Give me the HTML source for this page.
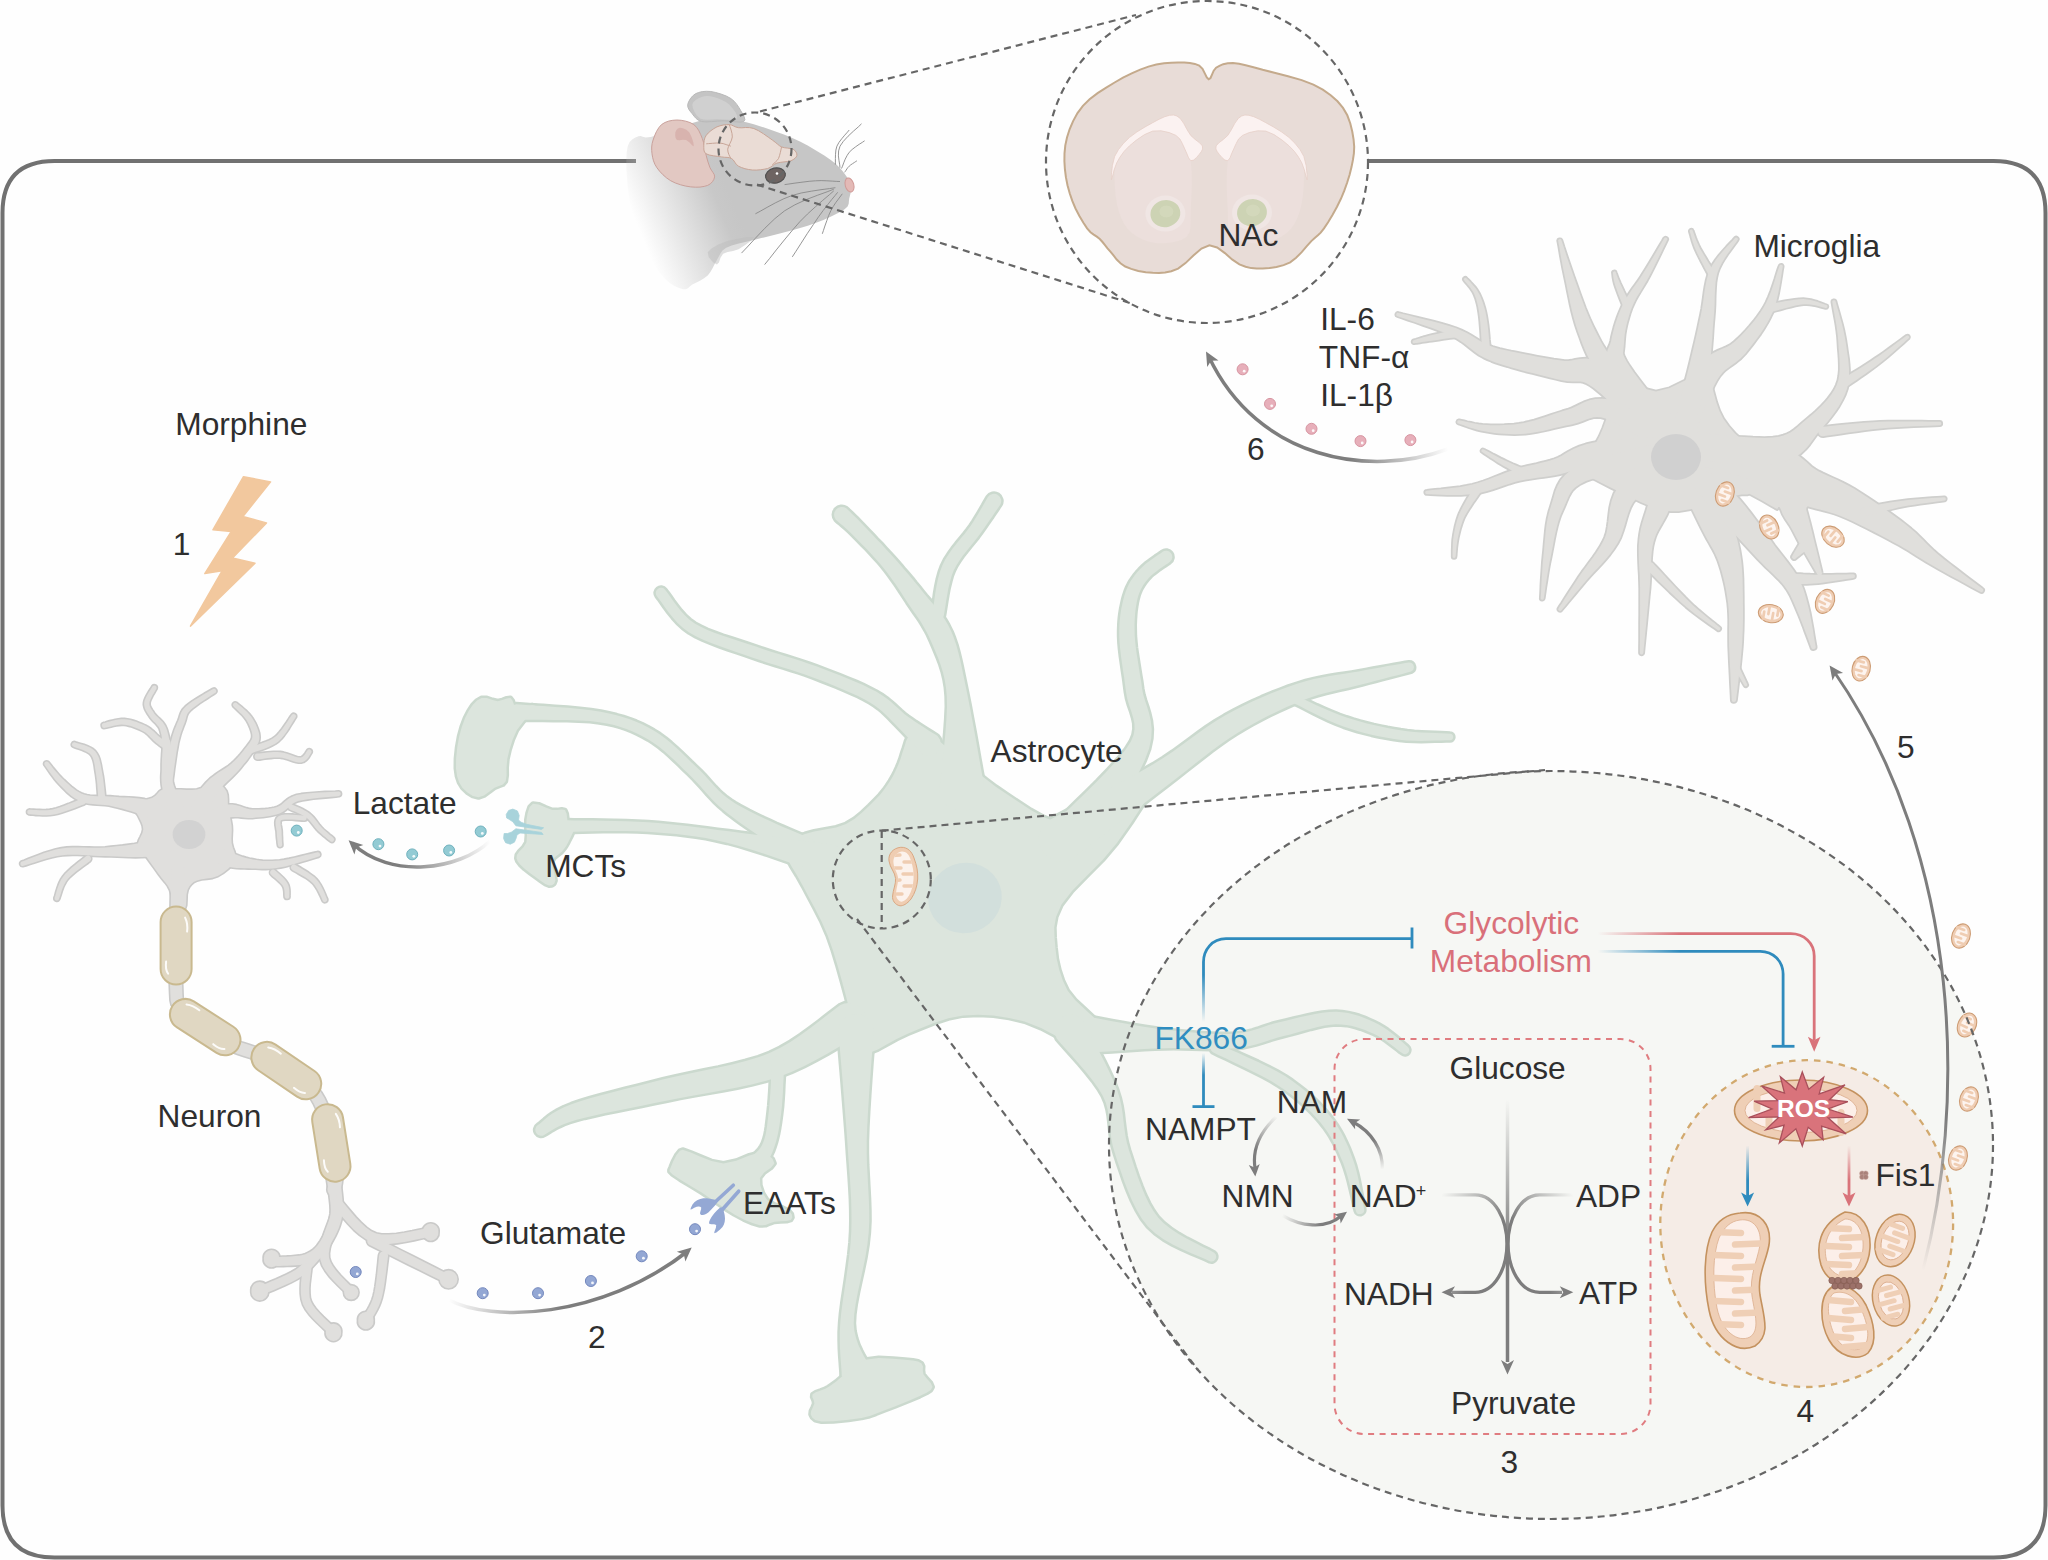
<!DOCTYPE html><html><head><meta charset="utf-8"><style>html,body{margin:0;padding:0;background:#fefefe;width:2048px;height:1560px;overflow:hidden}svg{display:block;font-family:"Liberation Sans",sans-serif}</style></head><body><svg width="2048" height="1560" viewBox="0 0 2048 1560" font-family="Liberation Sans, sans-serif"><rect width="2048" height="1560" fill="#fefefe"/>
<path d="M636,161 L54.5,161 Q2.5,161 2.5,213 L2.5,1505.5 Q2.5,1557.5 54.5,1557.5 L1993.5,1557.5 Q2045.5,1557.5 2045.5,1505.5 L2045.5,213 Q2045.5,161 1993.5,161 L1368,161" fill="none" stroke="#717171" stroke-width="4"/>
<linearGradient id="g1" gradientUnits="userSpaceOnUse" x1="640" y1="232" x2="730" y2="195"><stop offset="0" stop-color="#c8c8c8" stop-opacity="0"/><stop offset="0.85" stop-color="#c8c8c8" stop-opacity="1"/><stop offset="1" stop-color="#c6c6c6"/></linearGradient><path d="M638.5,136.2L640.7,135.9L642.7,136.8L645.6,137.5L650.8,136.9L659.7,134.2L671.3,130.2L683.1,126.1L692.3,123.1L697.6,121.5L700.7,120.6L703.4,120.2L707.7,120.0L714.3,119.7L722.1,119.7L730.4,119.9L738.5,120.8L746.2,122.3L753.8,124.3L761.5,126.7L769.2,129.2L776.9,131.9L784.6,134.8L792.3,137.9L800.0,141.5L808.1,145.8L816.4,150.7L824.3,155.6L830.8,160.0L835.6,163.8L839.2,167.3L842.1,170.6L844.6,173.8L846.9,177.0L848.7,180.1L850.0,183.1L850.8,186.2L851.0,189.3L850.7,192.4L850.0,195.5L849.2,198.5L848.9,201.2L848.7,203.8L847.6,206.4L844.6,209.2L839.1,212.6L831.6,216.2L823.4,219.9L815.4,223.1L807.8,225.7L800.1,228.1L792.3,230.2L784.6,232.3L776.9,234.3L769.0,236.2L761.3,238.1L753.8,240.0L746.3,241.8L738.7,243.6L731.7,245.4L726.2,247.7L722.5,250.4L720.4,253.4L718.8,256.6L716.9,260.0L714.8,263.8L712.7,267.9L710.4,271.9L707.7,275.4L704.1,278.2L700.0,280.7L695.9,282.8L692.3,284.6L689.8,286.5L687.9,288.2L685.9,289.3L683.1,289.2L679.1,288.0L674.4,285.9L669.4,282.7L664.6,278.5L659.9,272.9L655.1,266.2L650.4,258.7L646.2,250.8L642.2,242.2L638.4,232.9L635.1,223.3L632.3,213.8L630.2,204.5L628.7,195.0L627.6,185.7L626.9,176.9L626.4,168.3L626.3,159.9L626.7,152.2L627.7,146.2L629.6,141.9L632.4,139.2L635.4,137.4Z" fill="url(#g1)"/><path d="M707.7,252.3L711.5,248.4L718.3,244.6L726.2,241.5L736.3,238.9L747.5,237.0L753.8,236.9L751.9,240.1L745.2,245.1L738.5,249.2L733.0,251.1L727.5,252.1L723.1,253.8L720.5,257.8L718.9,262.5L716.9,264.6L713.0,262.2L708.8,257.2Z" fill="#bdbdbd" opacity="0.5"/><path d="M687.7,104.6L688.6,101.8L690.3,98.8L692.6,96.0L695.4,93.8L698.6,92.5L702.3,91.6L706.4,91.3L710.8,91.5L715.7,92.5L721.1,94.1L726.4,96.1L730.8,98.5L734.1,101.2L736.8,104.4L739.0,107.7L740.8,110.8L742.6,113.8L744.2,117.0L744.9,119.7L743.8,121.5L740.3,122.1L735.0,121.8L728.9,121.1L723.1,120.8L717.5,121.1L711.6,121.6L706.1,121.9L701.5,121.5L698.3,120.2L695.9,118.3L694.0,116.1L692.3,113.8L690.5,111.7L688.9,109.4L687.9,107.1Z" fill="#c4c4c4" stroke="#b9b9b9" stroke-width="1"/><path d="M692.3,104.6L693.4,102.1L695.7,99.9L698.6,98.2L701.5,96.9L704.3,96.2L707.3,96.0L710.5,96.2L713.8,96.9L717.7,98.2L721.8,99.9L725.9,102.1L729.2,104.6L732.3,108.0L735.3,112.0L737.1,115.8L736.9,118.5L733.8,119.6L728.5,119.8L722.4,119.5L716.9,119.2L712.3,119.5L707.7,119.8L703.5,119.6L700.0,118.5L697.0,115.8L694.5,112.0L692.8,108.0Z" fill="#d0d0d0"/><path d="M653.1,140.0L654.5,136.0L656.4,131.7L658.8,127.7L661.5,124.6L664.9,122.5L668.7,121.1L672.8,120.3L676.9,120.0L681.2,120.3L685.8,121.2L690.2,122.6L693.8,124.6L696.7,127.4L698.9,130.8L700.7,134.6L702.3,138.5L703.6,142.6L704.5,147.0L705.3,151.4L706.2,155.4L707.1,158.9L708.0,162.0L709.0,164.9L710.0,167.7L711.4,170.2L713.0,172.5L714.3,174.7L714.6,176.9L713.9,179.3L712.5,181.6L710.4,183.8L707.7,185.4L704.2,186.4L700.0,187.1L695.5,187.2L690.8,186.9L685.8,186.1L680.6,184.8L675.4,183.0L670.8,180.8L666.7,178.0L662.9,174.7L659.6,171.2L656.9,167.7L654.9,164.3L653.5,160.8L652.6,157.3L652.0,153.8L651.7,150.4L651.7,147.0L652.1,143.6Z" fill="#e2c8c2" stroke="#c9a19b" stroke-width="1"/><path d="M680.0,127.7L682.9,128.2L686.3,129.7L689.2,132.3L691.6,137.0L693.4,142.7L693.8,146.2L692.3,145.4L689.3,142.3L686.2,140.0L682.9,139.8L679.5,140.3L676.9,140.0L675.6,137.9L675.2,134.9L675.4,132.3L676.3,130.2L677.9,128.4Z" fill="#d4aaa5" opacity="0.7"/><path d="M706.2,135.4L708.2,133.0L710.9,130.7L713.9,128.6L716.9,126.9L720.0,125.8L723.2,125.0L726.3,124.7L729.2,124.6L731.6,125.1L733.7,126.0L735.8,127.0L738.5,127.7L741.8,127.8L745.6,127.5L749.6,127.6L753.8,128.5L758.5,130.7L763.5,133.8L768.3,137.2L772.3,140.0L775.2,142.2L777.4,144.0L779.3,145.6L781.5,146.9L784.4,147.7L787.6,148.1L790.7,148.5L793.1,149.2L794.8,150.5L796.1,152.1L796.8,153.8L796.9,155.4L796.3,156.9L795.0,158.3L793.1,159.7L790.8,160.8L787.7,161.5L784.0,161.9L780.2,162.4L776.9,163.1L774.4,164.3L772.4,165.8L770.3,167.3L767.7,168.5L764.2,169.2L760.3,169.8L756.2,170.1L752.3,170.0L748.6,169.5L744.9,168.7L741.4,167.5L738.5,166.2L736.3,164.4L734.8,162.2L733.3,160.0L731.5,158.5L729.4,157.7L727.1,157.4L724.5,157.3L721.5,156.9L717.8,156.4L713.4,155.8L709.2,155.0L706.2,153.8L704.5,152.1L703.9,150.0L703.8,147.7L703.8,145.4L703.9,143.0L704.2,140.4L704.9,137.8Z" fill="#eadcd5" stroke="#c8a597" stroke-width="1"/><path d="M729.2,124.6L730.0,126.8L731.1,130.0L732.0,133.6L732.3,136.9L731.5,140.1L730.0,143.3L728.5,146.4L727.7,149.2L728.0,152.0L728.9,154.6L730.0,156.9L730.8,158.5" fill="none" stroke="#c8a597" stroke-width="1"/><path d="M706.2,143.8L708.7,143.6L712.4,143.3L716.4,143.0L720.0,143.1L723.2,143.6L726.2,144.6L728.9,145.5L730.8,146.2" fill="none" stroke="#c8a597" stroke-width="1"/><path d="M781.5,146.9L781.1,149.1L780.4,152.3L779.5,155.7L778.5,158.5L777.0,160.5L775.2,162.3L773.5,163.6L772.3,164.6" fill="none" stroke="#c8a597" stroke-width="1"/><ellipse cx="775.5" cy="175.5" rx="10" ry="7.5" fill="#6e6462" stroke="#505050" stroke-width="1.2" transform="rotate(-12 775.5 175.5)"/><circle cx="777" cy="173.5" r="1.3" fill="#fff"/><ellipse cx="849.5" cy="185" rx="4.3" ry="7.2" fill="#e3b9b6" stroke="#d09a97" stroke-width="1" transform="rotate(-15 849.5 185)"/><path d="M840.0,167.7L839.7,164.8L839.0,160.7L838.4,155.9L838.6,150.9L840.0,146.2L843.3,141.4L848.1,136.2L853.4,131.2L858.3,126.9L861.5,123.8" fill="none" stroke="#8a8a8a" stroke-width="0.9"/><path d="M835.4,164.6L835.4,162.1L835.4,158.4L835.5,154.3L835.9,150.0L836.9,146.2L838.9,142.5L841.7,138.8L844.7,135.2L847.4,132.2L849.2,130.0" fill="none" stroke="#8a8a8a" stroke-width="0.9"/><path d="M841.5,168.5L842.5,166.2L843.7,162.9L845.2,159.2L847.1,155.5L849.2,152.3L852.1,149.5L855.6,146.8L859.2,144.3L862.4,142.3L864.6,140.8" fill="none" stroke="#8a8a8a" stroke-width="0.9"/><path d="M844.6,172.3L845.2,171.5L846.0,170.3L846.9,168.9L848.0,167.4L849.2,166.2L850.7,164.9L852.5,163.7L854.3,162.5L855.8,161.5L856.9,160.8" fill="none" stroke="#8a8a8a" stroke-width="0.9"/><path d="M840.0,181.5L836.8,181.4L832.2,181.1L826.9,180.8L821.1,180.6L815.4,180.8L809.1,181.3L802.0,182.2L795.0,183.1L788.9,184.0L784.6,184.6" fill="none" stroke="#8a8a8a" stroke-width="0.9"/><path d="M835.4,187.7L829.4,188.6L821.0,189.7L811.2,191.2L801.2,193.0L792.3,195.4L783.9,198.7L775.3,202.9L767.2,207.3L760.3,211.2L755.4,213.8" fill="none" stroke="#8a8a8a" stroke-width="0.9"/><path d="M833.8,189.2L827.1,191.8L817.4,195.3L806.2,199.6L794.9,204.8L784.6,210.8L774.9,218.6L764.9,228.2L755.4,238.2L747.3,247.0L741.5,253.1" fill="none" stroke="#8a8a8a" stroke-width="0.9"/><path d="M833.8,190.8L829.3,194.8L822.8,200.3L815.3,206.9L807.4,214.1L800.0,221.5L792.5,230.1L784.3,240.0L776.3,249.9L769.5,258.6L764.6,264.6" fill="none" stroke="#8a8a8a" stroke-width="0.9"/><path d="M837.7,192.3L835.2,195.4L831.7,199.6L827.6,204.8L823.1,210.6L818.5,216.9L813.3,224.6L807.2,233.7L801.2,243.1L796.0,251.2L792.3,256.9" fill="none" stroke="#8a8a8a" stroke-width="0.9"/><path d="M842.3,193.8L840.7,196.0L838.4,199.1L835.7,202.7L833.1,206.7L830.8,210.8L828.7,215.4L826.8,220.7L824.9,226.0L823.4,230.6L822.3,233.8" fill="none" stroke="#8a8a8a" stroke-width="0.9"/>
<path d="M1208.7,79.3L1206.8,77.4L1204.8,73.4L1202.5,68.9L1199.2,65.6L1194.9,63.9L1189.9,62.9L1184.2,62.4L1178.1,62.4L1171.3,62.7L1164.0,63.3L1156.3,64.6L1148.4,66.6L1140.2,69.6L1131.7,73.4L1123.0,77.7L1114.6,82.5L1106.2,87.6L1097.6,93.1L1089.6,99.2L1082.9,105.8L1077.5,113.1L1073.1,121.1L1069.6,129.3L1067.0,137.5L1065.3,145.4L1064.5,153.3L1064.4,161.3L1064.9,169.2L1065.9,177.2L1067.5,185.3L1069.7,193.3L1072.3,200.9L1075.5,208.5L1079.4,216.0L1083.4,222.8L1087.1,228.4L1090.5,232.2L1093.7,234.6L1096.8,236.6L1099.8,239.0L1102.5,242.0L1105.0,245.1L1107.5,248.3L1110.4,251.7L1113.5,255.4L1116.7,259.5L1120.5,263.3L1125.2,266.5L1131.2,268.9L1138.3,270.9L1145.7,272.2L1152.7,272.8L1159.0,273.0L1165.1,272.6L1171.3,271.3L1178.1,268.6L1185.5,263.1L1193.4,255.5L1201.5,248.6L1209.4,245.3L1217.1,247.5L1224.9,253.1L1232.4,259.7L1239.4,264.4L1245.6,266.7L1251.2,268.1L1256.7,268.6L1262.7,268.6L1269.4,268.1L1276.5,267.0L1283.6,265.1L1290.2,262.3L1296.1,257.8L1301.7,252.1L1306.8,246.2L1311.3,241.1L1315.0,237.7L1317.9,235.3L1320.7,232.6L1324.0,228.4L1328.1,222.3L1332.6,214.8L1337.0,206.8L1340.9,198.8L1344.2,190.9L1347.1,182.8L1349.6,174.8L1351.5,167.1L1352.9,160.0L1353.9,153.3L1354.2,146.7L1353.6,139.6L1352.3,131.8L1350.3,123.5L1347.3,115.3L1343.0,107.9L1337.5,101.3L1330.7,95.2L1322.8,89.6L1313.4,84.6L1301.7,80.1L1288.0,76.2L1274.4,72.7L1262.7,69.8L1253.5,67.3L1245.7,65.2L1239.1,63.7L1233.0,63.0L1227.7,63.2L1223.2,64.2L1219.4,65.8L1216.1,67.7L1213.7,70.7L1212.0,74.6L1210.5,78.0Z" fill="#e8dcd7" stroke="#c4aa8c" stroke-width="2"/><path d="M1114.6,179.8L1114.5,171.5L1114.6,163.0L1115.8,154.9L1118.8,148.1L1124.5,142.3L1132.1,137.3L1140.4,133.5L1148.4,131.1L1156.2,130.2L1164.3,130.6L1171.8,132.3L1178.1,135.4L1182.7,139.6L1186.2,145.1L1188.9,152.1L1190.7,160.7L1191.7,172.2L1191.8,186.1L1191.3,200.0L1190.7,211.5L1190.6,220.1L1190.5,227.0L1189.5,232.5L1186.5,236.9L1180.8,240.2L1173.0,242.3L1164.6,243.3L1156.9,243.2L1150.0,242.0L1143.2,239.7L1136.9,236.4L1131.5,232.7L1127.3,228.4L1123.9,223.4L1121.1,217.8L1118.8,211.5L1117.0,204.3L1115.7,196.3L1114.9,188.0Z" fill="#ecdfdc"/><path d="M1303.9,179.8L1304.0,171.5L1303.9,163.0L1302.7,154.9L1299.7,148.1L1294.1,142.3L1286.5,137.3L1278.1,133.5L1270.1,131.1L1262.3,130.2L1254.2,130.6L1246.7,132.3L1240.4,135.4L1235.8,139.6L1232.3,145.1L1229.6,152.1L1227.8,160.7L1226.8,172.2L1226.7,186.1L1227.2,200.0L1227.8,211.5L1227.9,220.1L1228.0,227.0L1229.0,232.5L1232.0,236.9L1237.7,240.2L1245.5,242.3L1253.9,243.3L1261.6,243.2L1268.5,242.0L1275.3,239.7L1281.6,236.4L1287.0,232.7L1291.2,228.4L1294.6,223.4L1297.4,217.8L1299.7,211.5L1301.5,204.3L1302.8,196.3L1303.6,188.0Z" fill="#ecdfdc"/><path d="M1111.4,179.8L1111.4,174.8L1112.4,165.4L1114.6,156.5L1118.4,149.7L1123.4,143.4L1129.4,137.5L1136.8,132.0L1145.1,126.9L1152.7,122.7L1159.0,119.3L1164.7,116.7L1169.6,115.3L1173.6,115.0L1176.9,116.0L1180.2,118.4L1183.7,123.3L1187.1,129.7L1190.7,135.4L1195.1,139.4L1199.6,142.8L1202.4,145.9L1202.6,149.0L1201.2,151.8L1199.2,154.4L1196.7,157.4L1193.6,160.1L1190.7,160.7L1188.6,157.9L1186.6,153.0L1184.4,148.1L1182.3,143.5L1179.9,139.0L1175.9,135.4L1169.3,132.6L1161.0,130.8L1152.7,131.1L1144.5,134.6L1136.4,140.1L1129.4,145.9L1124.1,151.4L1120.0,157.1L1116.7,162.9L1114.1,170.0L1112.3,177.1Z" fill="#fbf2f1" stroke="#e6cfc8" stroke-width="0.8"/><path d="M1307.1,179.8L1307.1,174.8L1306.1,165.4L1303.9,156.5L1300.1,149.7L1295.1,143.4L1289.1,137.5L1281.7,132.0L1273.4,126.9L1265.8,122.7L1259.5,119.3L1253.8,116.7L1248.9,115.3L1244.9,115.0L1241.6,116.0L1238.3,118.4L1234.8,123.3L1231.4,129.7L1227.8,135.4L1223.4,139.4L1218.9,142.8L1216.1,145.9L1215.9,149.0L1217.3,151.8L1219.3,154.4L1221.8,157.4L1224.9,160.1L1227.8,160.7L1230.0,157.9L1231.9,153.0L1234.1,148.1L1236.2,143.5L1238.6,139.0L1242.6,135.4L1249.2,132.6L1257.5,130.8L1265.8,131.1L1274.0,134.6L1282.1,140.1L1289.1,145.9L1294.4,151.4L1298.5,157.1L1301.8,162.9L1304.4,170.0L1306.2,177.1Z" fill="#fbf2f1" stroke="#e6cfc8" stroke-width="0.8"/><ellipse cx="1165.4" cy="213.6" rx="20" ry="18" fill="#f0e6e4"/><ellipse cx="1165.4" cy="213.6" rx="15" ry="13.5" fill="#cdd3b4" transform="rotate(-15 1165.4 213.6)"/><ellipse cx="1166.4" cy="211.6" rx="7" ry="6" fill="#d4dabd" opacity="0.8"/><ellipse cx="1252" cy="212.6" rx="20" ry="18" fill="#f0e6e4"/><ellipse cx="1252" cy="212.6" rx="15" ry="13.5" fill="#cdd3b4" transform="rotate(-15 1252 212.6)"/><ellipse cx="1253" cy="210.6" rx="7" ry="6" fill="#d4dabd" opacity="0.8"/>
<path d="M243.5,476.7L270.6,481.9L242.9,516.5L266.5,522.9L232.5,558.1L255,563.3L190.4,626.1L222.1,570.8L204.8,573.6L231.3,531.5L212.9,529.8Z" fill="#f2c89e" stroke="#f2c89e" stroke-width="1.5" stroke-linejoin="round"/>
<ellipse cx="1551" cy="1145" rx="442" ry="374" fill="#f6f7f4"/>
<defs><g id="ast"><path d="M784.6,849.2L786.5,843.7L791.1,839.9L797.5,836.9L805.0,834.0L814.1,831.5L825.0,829.5L836.1,827.4L846.0,824.0L854.4,818.9L862.1,812.6L869.0,806.0L875.0,800.0L879.9,794.9L883.8,790.1L887.0,785.6L890.0,781.0L892.8,776.4L895.1,771.8L897.2,767.3L899.0,763.0L900.5,759.0L901.7,755.1L902.8,751.5L904.0,748.0L905.1,744.5L906.1,741.1L907.5,738.2L910.0,736.0L913.6,734.2L917.9,732.8L923.3,732.7L930.0,735.0L938.5,740.6L948.5,748.7L959.1,757.7L969.2,766.0L978.3,773.2L987.1,780.1L996.1,786.9L1006.2,793.8L1017.9,801.6L1030.8,810.0L1043.7,817.2L1055.4,821.5L1064.8,822.6L1072.7,821.3L1081.2,817.8L1092.3,812.3L1109.7,801.2L1131.1,785.6L1150.1,772.5L1160.0,769.2L1157.3,779.7L1146.1,799.6L1131.1,822.8L1116.9,843.1L1102.8,859.8L1086.9,875.8L1072.2,890.8L1061.5,904.6L1056.1,916.7L1054.2,927.3L1054.5,937.4L1055.4,947.7L1056.7,958.7L1059.2,969.8L1062.9,980.7L1067.7,990.8L1075.1,1000.1L1084.6,1008.9L1093.4,1017.0L1098.5,1024.6L1099.6,1032.6L1098.1,1040.7L1093.8,1046.9L1086.2,1049.2L1074.3,1045.4L1058.5,1037.3L1041.1,1028.1L1024.6,1021.5L1009.1,1017.9L993.5,1015.6L978.0,1014.7L963.1,1015.4L948.4,1018.3L933.9,1023.1L920.1,1028.6L907.7,1033.8L896.6,1039.0L886.6,1044.6L877.9,1049.4L870.8,1052.3L866.0,1053.5L863.1,1053.5L861.0,1051.3L858.5,1046.2L855.6,1037.2L852.7,1025.0L849.7,1011.1L846.2,996.9L842.2,982.1L837.7,966.1L832.9,950.2L827.7,935.4L821.8,921.9L815.4,909.3L809.0,897.4L803.1,886.2L797.1,875.6L791.0,865.6L786.3,856.6Z"/><path d="M984.7,789.1L983.4,781.6L981.5,771.4L979.3,759.1L976.9,745.5L974.4,731.5L971.8,717.6L969.4,704.8L967.2,693.7L965.2,684.1L963.4,675.3L961.7,667.1L960.0,659.3L958.2,651.9L956.2,644.8L953.9,638.0L951.3,631.5L948.1,625.1L944.6,619.1L940.9,613.8L937.1,608.9L933.3,604.3L929.6,600.0L926.0,595.8L922.5,591.5L919.0,587.1L915.4,582.8L911.9,578.4L908.3,574.2L904.6,570.0L901.0,565.7L897.3,561.5L893.5,557.3L889.6,552.9L885.4,548.4L881.2,543.8L876.9,539.4L872.8,535.0L868.9,530.9L865.3,527.2L862.2,523.9L859.3,521.0L856.7,518.3L854.3,516.0L852.1,513.9L850.2,512.1L848.6,510.6L847.3,509.3L846.2,508.3A7.8,7.8 0 0 0 835.8,519.7L835.8,519.7L837.0,520.8L838.4,522.0L840.1,523.4L842.0,525.0L844.1,526.8L846.5,528.9L849.0,531.3L851.8,534.1L855.0,537.3L858.7,540.9L862.6,544.9L866.7,549.1L870.8,553.5L874.9,558.0L878.9,562.4L882.5,566.7L885.9,571.0L889.1,575.3L892.3,579.7L895.4,584.1L898.4,588.5L901.4,593.1L904.4,597.7L907.5,602.5L910.8,607.3L914.0,612.0L917.2,616.6L920.3,621.1L923.1,625.7L925.8,630.4L928.3,635.2L930.7,640.5L933.2,646.3L935.7,652.2L938.2,658.3L940.6,664.7L942.8,671.7L944.6,679.2L946.0,687.4L946.8,696.3L947.0,706.8L946.4,719.3L945.4,732.9L944.1,746.8L942.6,760.4L941.2,772.7L940.0,783.2L939.3,790.9A22.8,22.8 0 0 0 984.7,789.1Z"/><path d="M943.7,616.0L944.4,612.2L945.2,607.2L946.1,601.3L947.2,594.9L948.4,588.3L950.0,581.8L951.7,575.7L953.7,570.5L956.2,565.7L959.2,560.9L962.6,556.0L966.4,551.2L970.2,546.4L974.1,541.7L977.8,537.1L981.1,532.6L984.1,528.3L987.0,524.1L989.8,520.0L992.5,516.2L994.9,512.6L997.0,509.5L998.7,506.9L1000.1,504.9A7.2,7.2 0 0 0 987.9,497.1L987.9,497.1L986.6,499.3L985.0,502.0L983.2,505.3L981.0,509.0L978.7,512.9L976.2,517.0L973.6,521.3L970.9,525.4L967.9,529.5L964.5,533.9L960.6,538.5L956.6,543.4L952.6,548.6L948.8,554.0L945.2,559.6L942.3,565.5L939.9,571.9L938.0,578.8L936.5,585.9L935.3,592.9L934.4,599.6L933.6,605.5L932.9,610.4L932.3,614.0A5.8,5.8 0 0 0 943.7,616.0Z"/><path d="M1098.2,843.7L1102.2,836.5L1108.1,826.5L1115.4,814.3L1123.4,800.8L1131.3,786.8L1138.7,773.0L1144.8,760.1L1149.1,748.6L1151.2,738.4L1151.7,729.2L1150.8,720.9L1149.1,713.5L1147.1,706.7L1145.0,700.5L1143.3,694.7L1142.1,688.7L1141.2,682.0L1140.0,674.9L1138.9,667.8L1137.8,660.8L1136.7,654.0L1135.8,647.5L1135.2,641.4L1134.7,635.7L1134.6,630.3L1134.5,625.1L1134.7,620.1L1135.0,615.3L1135.4,610.8L1136.0,606.6L1136.7,602.5L1137.5,598.8L1138.4,595.5L1139.5,592.5L1140.6,589.9L1141.9,587.4L1143.3,585.1L1144.9,582.8L1146.7,580.5L1148.6,578.2L1150.7,576.0L1153.3,573.7L1156.3,571.4L1159.4,569.1L1162.5,567.0L1165.3,565.1L1167.8,563.4L1169.7,562.1A6.2,6.2 0 0 0 1162.3,551.9L1162.3,551.9L1160.7,553.2L1158.3,554.8L1155.4,556.7L1152.2,559.0L1148.8,561.5L1145.4,564.1L1142.2,566.9L1139.4,569.8L1137.0,572.5L1134.9,575.1L1132.8,577.9L1130.8,580.8L1129.0,584.0L1127.3,587.4L1125.8,591.2L1124.5,595.2L1123.3,599.5L1122.3,604.0L1121.3,608.8L1120.5,613.8L1119.9,619.0L1119.5,624.5L1119.3,630.3L1119.3,636.3L1119.6,642.7L1120.2,649.3L1121.0,656.2L1122.0,663.2L1123.0,670.2L1124.1,677.3L1125.0,684.2L1125.9,691.3L1127.2,698.6L1129.2,705.5L1131.4,711.8L1133.2,717.7L1134.4,723.3L1134.6,729.0L1133.6,734.9L1130.9,741.4L1125.7,749.5L1117.8,759.3L1108.0,770.0L1097.4,781.1L1086.6,791.7L1076.5,801.6L1067.9,810.0L1061.8,816.3A22.8,22.8 0 0 0 1098.2,843.7Z"/><path d="M1072.3,859.1L1079.8,853.3L1089.9,845.4L1102.0,836.0L1115.3,825.6L1129.2,814.9L1142.9,804.2L1155.8,794.3L1167.2,785.5L1177.2,777.8L1186.6,770.4L1195.3,763.5L1203.7,757.0L1211.7,750.8L1219.6,745.0L1227.4,739.5L1235.5,734.2L1243.9,729.1L1252.5,724.2L1261.1,719.5L1269.8,715.1L1278.3,710.9L1286.7,707.1L1295.0,703.5L1302.9,700.2L1310.5,697.4L1318.0,695.1L1325.4,693.0L1332.8,691.2L1340.1,689.6L1347.3,688.0L1354.4,686.3L1361.4,684.6L1368.5,682.7L1375.7,680.8L1382.9,678.9L1389.9,677.1L1396.5,675.4L1402.3,673.9L1407.3,672.6L1411.0,671.6A4.8,4.8 0 0 0 1409.0,662.4L1409.0,662.4L1405.2,663.0L1400.2,663.9L1394.2,665.0L1387.6,666.1L1380.4,667.4L1373.0,668.7L1365.7,670.1L1358.6,671.4L1351.7,672.6L1344.6,673.7L1337.3,674.8L1329.7,676.0L1321.9,677.4L1313.8,679.1L1305.5,681.2L1297.1,683.8L1288.5,686.7L1279.7,690.0L1270.7,693.5L1261.5,697.4L1252.3,701.6L1243.0,706.0L1233.7,710.8L1224.5,715.8L1215.5,721.2L1206.8,726.9L1198.4,732.9L1190.1,739.0L1181.6,745.3L1172.7,751.7L1163.2,758.0L1152.8,764.5L1140.7,771.4L1126.6,779.2L1111.4,787.4L1095.9,795.6L1081.0,803.4L1067.4,810.5L1056.0,816.5L1047.7,820.9A22.8,22.8 0 0 0 1072.3,859.1Z"/><path d="M1290.4,701.4L1294.4,703.4L1299.7,706.1L1306.1,709.4L1313.2,713.0L1320.8,716.8L1328.6,720.4L1336.2,723.7L1343.4,726.5L1350.4,728.8L1357.4,731.0L1364.5,732.9L1371.6,734.7L1378.6,736.2L1385.7,737.6L1392.6,738.7L1399.4,739.7L1406.4,740.4L1413.8,740.8L1421.2,740.9L1428.4,740.8L1435.1,740.6L1441.1,740.5L1446.1,740.3L1449.9,740.2A3.2,3.2 0 0 0 1450.1,733.8L1450.1,733.8L1446.2,733.5L1441.1,733.3L1435.2,733.1L1428.5,732.8L1421.5,732.4L1414.3,731.9L1407.3,731.2L1400.6,730.3L1394.1,729.2L1387.5,728.0L1380.7,726.6L1373.8,725.1L1366.9,723.4L1360.1,721.6L1353.2,719.6L1346.6,717.5L1339.6,715.0L1332.2,712.0L1324.5,708.7L1316.9,705.4L1309.7,702.0L1303.2,699.0L1297.7,696.5L1293.6,694.6A3.8,3.8 0 0 0 1290.4,701.4Z"/><path d="M656.9,596.2L659.0,598.9L661.6,602.6L664.7,607.1L668.5,612.2L672.8,617.5L677.6,622.9L683.1,627.9L689.2,632.4L695.9,636.3L703.2,639.8L711.1,643.0L719.3,646.1L727.7,649.1L736.1,651.9L744.3,654.7L752.1,657.4L759.9,660.1L767.6,662.7L775.4,665.1L783.1,667.4L790.7,669.8L798.2,672.2L805.6,674.7L813.0,677.4L820.5,680.3L828.2,683.3L836.0,686.5L843.6,689.7L851.0,692.9L858.0,696.1L864.3,699.3L869.9,702.4L874.6,705.4L878.7,708.4L882.3,711.4L885.5,714.4L888.6,717.5L891.7,720.7L894.9,724.1L898.3,727.5L901.7,731.0L905.3,734.7L908.8,738.5L912.2,742.3L915.3,745.9L918.2,749.2L920.5,751.9L922.4,753.9A11.8,11.8 0 0 0 937.6,736.1L937.6,736.1L935.3,734.6L932.3,732.7L928.6,730.4L924.6,727.8L920.3,725.0L915.9,722.2L911.7,719.3L907.7,716.5L904.3,713.9L901.1,711.1L897.8,708.0L894.4,704.9L890.6,701.6L886.4,698.2L881.6,694.9L876.1,691.6L869.9,688.4L863.1,685.1L855.9,681.9L848.2,678.7L840.4,675.6L832.5,672.5L824.7,669.5L817.0,666.6L809.4,663.9L801.8,661.3L794.1,658.8L786.4,656.4L778.8,654.1L771.1,651.7L763.5,649.2L755.9,646.6L747.9,643.9L739.6,641.2L731.2,638.5L723.0,635.8L715.0,632.9L707.5,630.0L700.7,626.8L694.8,623.6L689.8,619.9L685.0,615.5L680.7,610.8L676.8,605.8L673.2,601.0L670.1,596.5L667.4,592.7L665.1,589.8A5.2,5.2 0 0 0 656.9,596.2Z"/><path d="M515.7,719.7L522.4,719.8L531.6,719.8L542.6,719.8L554.5,719.9L566.9,720.1L578.9,720.5L589.9,721.1L599.2,722.2L607.0,723.5L614.1,725.1L620.5,726.9L626.4,728.9L632.1,731.2L637.5,733.7L642.9,736.5L648.3,739.5L653.7,742.9L659.0,746.8L664.2,751.0L669.2,755.5L674.2,760.1L679.1,764.8L683.8,769.4L688.4,773.8L692.6,777.9L696.4,782.0L700.2,786.1L703.8,790.2L707.4,794.3L711.2,798.4L715.1,802.5L719.3,806.4L723.7,810.2L728.0,813.7L732.4,817.1L736.9,820.5L741.4,823.7L746.1,827.0L750.8,830.2L755.6,833.6L761.0,837.2L767.1,841.2L773.4,845.2L779.7,849.2L785.8,853.0L791.2,856.3L795.7,859.2L799.1,861.3A12.8,12.8 0 0 0 810.9,838.7L810.9,838.7L807.2,837.1L802.3,835.0L796.4,832.6L789.9,829.8L783.1,826.9L776.4,824.0L770.1,821.1L764.4,818.4L759.1,815.9L754.0,813.4L749.1,811.0L744.4,808.5L739.7,806.0L735.3,803.4L730.9,800.6L726.7,797.6L722.7,794.3L718.9,790.8L715.3,787.1L711.7,783.1L708.0,779.0L704.2,774.8L700.1,770.5L695.6,766.2L691.0,761.9L686.3,757.3L681.4,752.6L676.3,747.8L670.9,743.0L665.4,738.5L659.6,734.2L653.7,730.5L647.8,727.2L642.0,724.3L636.1,721.7L629.9,719.3L623.5,717.2L616.6,715.3L609.1,713.5L600.8,711.8L591.1,710.3L579.8,709.0L567.6,707.8L555.1,706.9L543.0,706.1L532.1,705.4L523.0,704.8L516.3,704.3A7.8,7.8 0 0 0 515.7,719.7Z"/><path d="M833.6,844.7L825.4,843.6L814.3,842.2L801.1,840.5L786.5,838.6L771.2,836.6L756.0,834.7L741.7,832.9L729.0,831.3L717.8,830.0L707.2,828.6L697.0,827.3L687.2,826.1L677.5,825.0L667.9,823.9L658.2,823.0L648.3,822.3L637.7,821.7L626.2,821.2L614.5,820.9L603.0,820.7L592.1,820.5L582.3,820.4L574.2,820.4L568.0,820.3A5.8,5.8 0 0 0 568.0,831.7L568.0,831.7L574.2,831.7L582.4,831.5L592.2,831.3L603.0,831.1L614.4,830.9L626.0,831.0L637.3,831.2L647.7,831.7L657.5,832.4L667.1,833.2L676.5,834.1L686.1,835.2L695.8,836.5L705.7,838.1L716.1,840.2L727.0,842.7L739.1,845.9L752.7,850.0L767.1,854.7L781.5,859.7L795.4,864.5L808.0,868.9L818.6,872.7L826.4,875.3A15.8,15.8 0 0 0 833.6,844.7Z"/><path d="M840.4,1005.1L834.8,1009.2L827.6,1014.7L819.5,1021.1L810.4,1028.0L800.7,1035.1L790.4,1041.9L779.9,1048.0L769.5,1053.1L758.2,1057.3L745.7,1061.0L732.2,1064.4L718.2,1067.6L703.9,1070.5L689.6,1073.4L675.7,1076.4L662.6,1079.5L650.0,1082.7L637.4,1085.9L624.8,1089.0L612.6,1092.2L600.9,1095.2L590.0,1098.2L580.2,1101.2L571.4,1104.2L564.0,1107.2L557.6,1110.4L552.4,1113.6L548.1,1116.6L544.6,1119.5L541.9,1121.9L539.8,1123.7L537.9,1125.1A5.8,5.8 0 0 0 544.1,1134.9L544.1,1134.9L546.5,1133.5L549.3,1131.8L552.2,1130.0L555.6,1128.1L559.5,1126.1L564.2,1124.0L569.8,1121.9L576.6,1119.8L584.8,1117.7L594.5,1115.5L605.2,1113.1L616.9,1110.7L629.2,1108.3L641.9,1105.7L654.7,1103.1L667.4,1100.5L680.2,1097.9L693.9,1095.4L708.2,1092.9L722.7,1090.3L737.3,1087.5L751.6,1084.4L765.4,1080.9L778.5,1076.9L791.3,1072.0L803.8,1066.3L815.8,1060.1L827.2,1053.8L837.5,1047.8L846.6,1042.4L854.0,1038.1L859.6,1034.9A17.8,17.8 0 0 0 840.4,1005.1Z"/><path d="M771.8,1061.7L771.6,1065.7L771.3,1071.0L771.1,1077.4L770.8,1084.4L770.4,1091.6L769.9,1098.8L769.4,1105.5L768.8,1111.3L768.2,1116.5L767.6,1121.6L767.0,1126.4L766.3,1130.9L765.5,1135.1L764.4,1139.1L763.1,1142.8L761.4,1146.2L759.2,1149.4L756.3,1152.5L752.9,1155.6L749.3,1158.5L745.7,1161.2L742.3,1163.6L739.3,1165.8L737.1,1167.7A10.8,10.8 0 0 0 752.9,1182.3L752.9,1182.3L754.2,1180.3L756.2,1177.6L758.8,1174.1L761.7,1170.1L764.7,1165.8L767.6,1161.3L770.4,1156.5L772.6,1151.8L774.3,1147.1L775.8,1142.5L777.0,1137.9L778.1,1133.1L779.0,1128.2L779.8,1123.2L780.5,1118.1L781.2,1112.7L781.9,1106.6L782.4,1099.7L782.9,1092.4L783.2,1085.0L783.6,1077.9L783.8,1071.5L784.0,1066.2L784.2,1062.3A6.2,6.2 0 0 0 771.8,1061.7Z"/><path d="M838.3,1030.1L839.0,1038.8L840.0,1050.5L841.2,1064.5L842.5,1079.9L843.8,1096.1L845.1,1112.2L846.3,1127.5L847.3,1141.2L848.1,1153.7L849.0,1165.7L849.8,1177.1L850.5,1188.3L851.1,1199.1L851.4,1209.9L851.5,1220.6L851.3,1231.5L850.6,1242.7L849.4,1254.5L847.8,1266.7L846.1,1278.8L844.3,1290.8L842.6,1302.2L841.2,1313.0L840.3,1322.8L839.8,1331.9L839.8,1340.4L840.0,1348.4L840.4,1355.8L840.9,1362.4L841.3,1367.9L841.6,1372.2L841.7,1375.5A14.8,14.8 0 0 0 870.3,1368.5L870.3,1368.5L868.7,1364.8L866.4,1360.4L863.7,1355.8L861.0,1350.6L858.3,1344.8L856.1,1338.3L854.4,1331.1L853.7,1323.2L854.2,1314.3L855.6,1304.2L857.7,1293.1L860.2,1281.4L862.9,1269.3L865.4,1256.9L867.4,1244.6L868.7,1232.5L869.3,1220.9L869.2,1209.5L868.8,1198.4L868.2,1187.2L867.6,1176.0L867.0,1164.7L866.7,1153.0L866.7,1140.8L867.2,1127.2L868.0,1111.9L869.0,1095.9L870.1,1079.7L871.2,1064.3L872.3,1050.3L873.1,1038.6L873.7,1029.9A17.8,17.8 0 0 0 838.3,1030.1Z"/><path d="M1089.0,1052.7L1094.9,1052.3L1102.7,1051.8L1112.0,1051.2L1122.4,1050.5L1133.3,1049.8L1144.3,1049.1L1154.9,1048.6L1164.6,1048.2L1173.7,1048.1L1182.9,1048.2L1192.2,1048.4L1201.4,1048.7L1210.4,1048.9L1219.2,1049.0L1227.6,1048.8L1235.6,1048.2L1243.0,1047.2L1249.7,1045.9L1255.9,1044.4L1261.7,1042.7L1267.1,1040.9L1272.5,1039.2L1277.9,1037.6L1283.7,1036.0L1290.3,1034.4L1297.1,1032.5L1304.1,1030.6L1311.0,1028.7L1317.8,1027.0L1324.4,1025.6L1330.5,1024.7L1336.0,1024.2L1341.2,1024.4L1346.2,1024.9L1351.1,1025.8L1355.8,1027.0L1360.5,1028.5L1365.0,1030.1L1369.4,1031.9L1373.7,1033.7L1377.8,1035.7L1381.9,1038.2L1386.1,1040.9L1390.1,1043.9L1393.8,1046.7L1397.2,1049.4L1400.1,1051.7L1402.4,1053.3A4.2,4.2 0 0 0 1407.6,1046.7L1407.6,1046.7L1405.6,1044.9L1402.9,1042.6L1399.6,1039.7L1395.9,1036.5L1391.8,1033.2L1387.5,1029.9L1382.9,1026.9L1378.3,1024.3L1373.8,1022.1L1369.2,1020.0L1364.4,1017.9L1359.3,1016.0L1353.9,1014.4L1348.2,1013.1L1342.3,1012.2L1336.0,1011.8L1329.3,1012.0L1322.3,1012.7L1315.1,1013.9L1307.9,1015.4L1300.6,1017.1L1293.6,1018.8L1286.8,1020.5L1280.3,1022.0L1274.0,1023.5L1268.1,1025.3L1262.6,1027.2L1257.3,1029.0L1252.1,1030.6L1246.7,1032.0L1240.8,1033.1L1234.4,1033.8L1227.1,1034.1L1219.3,1034.1L1210.9,1033.8L1202.1,1033.3L1193.1,1032.6L1183.9,1031.7L1174.6,1030.8L1165.4,1029.8L1155.8,1028.5L1145.4,1026.9L1134.6,1025.2L1123.9,1023.3L1113.7,1021.4L1104.5,1019.7L1096.8,1018.3L1091.0,1017.3A17.8,17.8 0 0 0 1089.0,1052.7Z"/><path d="M1213.0,1052.3L1218.3,1054.9L1225.6,1058.3L1234.2,1062.4L1243.6,1066.9L1253.3,1071.7L1262.8,1076.6L1271.5,1081.3L1278.9,1085.9L1285.3,1090.2L1291.4,1094.7L1297.0,1099.2L1302.3,1103.8L1307.3,1108.4L1312.0,1113.1L1316.4,1117.9L1320.5,1122.6L1324.3,1127.4L1327.7,1132.2L1330.7,1137.0L1333.5,1141.9L1336.1,1146.9L1338.5,1152.1L1340.8,1157.4L1343.1,1162.8L1345.2,1168.7L1347.2,1175.2L1349.1,1182.1L1350.8,1189.1L1352.4,1195.8L1353.7,1201.9L1354.9,1207.1L1355.9,1210.9A4.2,4.2 0 0 0 1364.1,1209.1L1364.1,1209.1L1363.4,1205.3L1362.5,1200.1L1361.3,1194.0L1360.0,1187.1L1358.6,1179.9L1356.9,1172.6L1355.0,1165.6L1352.9,1159.2L1350.7,1153.4L1348.5,1147.7L1346.0,1142.2L1343.4,1136.7L1340.4,1131.3L1337.2,1125.9L1333.5,1120.6L1329.5,1115.4L1325.1,1110.2L1320.4,1105.1L1315.5,1100.1L1310.2,1095.1L1304.5,1090.2L1298.4,1085.4L1292.0,1080.7L1285.1,1076.1L1277.1,1071.5L1267.9,1066.7L1258.1,1061.9L1248.0,1057.4L1238.4,1053.1L1229.6,1049.3L1222.4,1046.1L1217.0,1043.7A4.8,4.8 0 0 0 1213.0,1052.3Z"/><path d="M1056.9,1038.8L1060.8,1043.4L1066.3,1049.5L1072.6,1056.6L1079.5,1064.4L1086.4,1072.6L1093.0,1080.9L1098.6,1088.8L1102.9,1096.0L1105.7,1102.6L1107.6,1109.2L1108.8,1115.9L1109.6,1122.9L1110.3,1130.1L1111.2,1137.7L1112.7,1145.8L1115.1,1154.1L1117.9,1162.7L1121.0,1171.8L1124.3,1181.4L1128.0,1191.1L1132.1,1200.7L1136.7,1210.0L1141.9,1218.7L1147.9,1226.4L1155.2,1233.3L1163.6,1239.3L1172.7,1244.5L1181.9,1249.0L1190.7,1252.9L1198.6,1256.2L1205.1,1259.0L1209.8,1261.2A4.8,4.8 0 0 0 1214.2,1252.8L1214.2,1252.8L1209.4,1250.1L1202.9,1246.9L1195.3,1243.1L1187.0,1238.8L1178.6,1234.0L1170.7,1228.8L1163.7,1223.3L1158.1,1217.6L1153.4,1211.0L1149.0,1203.4L1144.9,1194.9L1141.2,1185.9L1137.7,1176.6L1134.5,1167.3L1131.6,1158.2L1128.9,1149.9L1126.8,1142.4L1125.4,1135.4L1124.4,1128.4L1123.5,1121.3L1122.7,1113.9L1121.5,1106.3L1119.7,1098.3L1117.1,1090.0L1113.5,1080.9L1109.1,1071.2L1104.2,1061.2L1099.0,1051.2L1094.0,1041.8L1089.4,1033.3L1085.7,1026.3L1083.1,1021.2A15.8,15.8 0 0 0 1056.9,1038.8Z"/><path d="M481.7,698.0L486.9,698.1L492.5,700.0L497.7,701.2L502.4,700.1L506.8,698.4L510.5,698.0L512.6,700.7L514.0,704.8L516.9,707.6L523.8,706.9L532.1,705.1L536.2,706.0L532.3,711.9L524.0,720.7L516.9,730.0L512.7,739.5L509.5,749.5L507.3,758.8L506.5,767.4L506.6,775.2L505.7,781.3L502.9,784.5L498.9,785.9L494.5,787.7L489.5,791.4L484.0,795.4L478.5,797.3L472.8,795.9L467.1,792.3L462.4,787.7L459.2,782.5L457.1,776.2L456.0,768.5L456.1,758.5L457.3,747.1L459.2,736.4L461.8,726.9L465.1,718.1L468.8,710.8L472.7,705.0L477.0,700.6Z"/><path d="M533.0,803.7L538.7,804.4L545.8,807.6L552.2,810.1L557.3,810.1L561.7,809.4L565.0,810.1L566.6,813.8L567.2,818.9L568.2,822.9L570.7,824.2L573.6,824.5L575.0,826.2L573.7,830.8L570.9,836.9L568.2,842.2L566.2,845.9L564.2,848.8L561.8,851.8L558.4,854.6L554.6,857.5L552.2,861.4L552.7,867.6L554.6,874.9L555.4,880.6L554.2,883.7L552.0,885.3L549.0,885.4L545.3,883.9L540.9,880.9L536.2,877.4L530.6,873.4L524.6,868.8L520.1,864.6L517.6,861.3L516.5,858.3L516.9,855.0L519.5,851.3L523.5,847.3L526.5,842.2L527.0,835.2L526.4,827.1L526.5,819.7L527.7,813.1L529.7,807.1Z"/><path d="M679.9,1150.8L682.6,1149.7L685.5,1150.7L690.8,1152.6L699.9,1156.4L711.5,1161.1L723.5,1163.5L736.2,1160.7L749.3,1155.4L759.9,1152.6L767.4,1154.5L772.5,1158.8L774.4,1163.5L770.9,1167.8L764.2,1172.5L759.9,1178.0L760.2,1185.2L762.8,1193.1L767.1,1199.9L774.0,1204.4L782.6,1207.7L788.9,1210.8L791.7,1214.2L792.3,1217.5L790.8,1219.9L786.6,1221.0L780.4,1221.2L774.4,1221.7L769.8,1223.3L765.5,1225.1L759.9,1225.3L752.5,1223.1L743.8,1219.4L734.4,1214.4L723.9,1207.8L712.6,1200.0L701.7,1192.6L690.7,1185.9L680.1,1179.5L672.6,1174.4L669.6,1171.5L669.6,1169.9L670.8,1167.2L673.0,1161.7L676.3,1155.3Z"/><path d="M836.2,1381.6L844.2,1374.6L854.1,1366.0L865.3,1359.8L878.7,1358.1L893.2,1358.7L905.2,1359.8L912.9,1360.5L918.1,1361.5L921.6,1363.4L923.0,1366.4L922.8,1370.3L923.4,1374.3L926.7,1378.5L930.8,1383.0L932.5,1387.0L930.8,1390.1L926.6,1392.8L919.8,1396.1L908.9,1400.8L895.3,1406.2L883.4,1410.7L875.7,1413.8L869.7,1416.0L861.6,1417.9L848.5,1419.8L833.5,1421.3L821.6,1421.6L815.3,1420.1L812.2,1417.4L810.7,1414.3L811.1,1410.9L813.0,1407.0L814.4,1403.4L813.7,1400.1L812.3,1397.0L812.6,1394.3L815.8,1392.3L820.7,1390.6L825.3,1388.8L828.4,1387.1L831.3,1385.1Z"/></g></defs>
<use href="#ast" fill="#cbd9ce" stroke="#cbd9ce" stroke-width="5" stroke-linejoin="round"/>
<use href="#ast" fill="#dce5dd"/>
<ellipse cx="965" cy="898" rx="37" ry="35" fill="#d2dfdc" transform="rotate(-20 965 898)"/>
<clipPath id="g2"><path d="M900.8,847.3C908,847 912,852 914,858C917,866 918,872 917.7,879C917,887 915,893 911,899C907,904 903,906 900,905.8C895,905 892,900 892.6,896C893,890 896,884 895.6,878.6C895,872 890,868 889,861C888,854 893,848 900.8,847.3Z" transform="translate(904 876.5) scale(0.7 0.86) translate(-904 -876.5)"/></clipPath><path d="M900.8,847.3C908,847 912,852 914,858C917,866 918,872 917.7,879C917,887 915,893 911,899C907,904 903,906 900,905.8C895,905 892,900 892.6,896C893,890 896,884 895.6,878.6C895,872 890,868 889,861C888,854 893,848 900.8,847.3Z" fill="#efcdb2" stroke="#d9a883" stroke-width="1"/><path d="M900.8,847.3C908,847 912,852 914,858C917,866 918,872 917.7,879C917,887 915,893 911,899C907,904 903,906 900,905.8C895,905 892,900 892.6,896C893,890 896,884 895.6,878.6C895,872 890,868 889,861C888,854 893,848 900.8,847.3Z" transform="translate(904 876.5) scale(0.7 0.86) translate(-904 -876.5)" fill="#fcf2ec"/><g clip-path="url(#g2)" stroke="#efcdb2" stroke-width="3.4" stroke-linecap="round"><path d="M920,862L904,862"/><path d="M920,874L903,874"/><path d="M920,886L904,886"/><path d="M886,856L900,855"/><path d="M887,868L901,868"/><path d="M890,881L900,880"/><path d="M890,894L902,894"/></g>
<defs><g id="mg"><path d="M1601.5,373.8L1602.9,371.2L1605.1,369.0L1608.8,368.1L1614.4,369.0L1622.5,373.8L1632.7,381.4L1644.1,388.4L1656.0,391.5L1669.6,388.1L1684.9,380.6L1698.9,372.9L1708.9,369.0L1713.0,370.3L1713.1,374.4L1711.9,380.3L1712.1,386.7L1714.0,393.8L1716.3,402.2L1719.3,410.8L1723.3,418.7L1728.5,426.1L1734.7,433.2L1741.5,439.6L1749.0,444.4L1757.9,446.7L1768.2,447.1L1777.7,447.3L1784.2,449.2L1787.5,453.2L1788.4,458.5L1787.3,464.3L1784.2,470.0L1778.1,475.9L1769.2,482.3L1759.8,488.1L1752.2,492.4L1747.6,494.4L1744.8,494.6L1741.6,494.6L1736.2,495.6L1727.3,498.4L1716.3,502.2L1704.8,505.8L1694.5,508.5L1686.0,510.1L1678.5,511.2L1670.9,511.3L1662.4,510.1L1652.5,507.0L1641.6,502.4L1630.7,497.2L1620.8,492.4L1611.7,488.1L1603.1,483.7L1595.4,479.7L1588.7,476.4L1582.7,474.6L1577.3,473.8L1573.6,472.7L1572.7,470.0L1575.8,465.1L1582.1,458.8L1589.3,451.7L1595.1,444.4L1599.4,436.6L1603.1,428.1L1606.1,419.8L1607.9,412.3L1608.3,405.9L1607.3,400.1L1605.9,394.8L1604.7,389.9L1603.6,385.2L1602.1,380.8L1601.2,376.9Z"/><path d="M1691.0,430.5L1684.7,425.3L1675.8,417.8L1665.1,408.9L1653.4,399.1L1641.2,389.2L1629.3,379.9L1618.4,371.9L1608.8,365.8L1600.5,361.8L1592.8,359.4L1585.9,358.6L1579.9,358.9L1575.2,359.7L1571.5,360.6L1568.4,361.1L1564.6,361.0L1559.5,360.3L1553.8,359.5L1548.0,358.5L1542.1,357.5L1536.2,356.4L1530.5,355.3L1525.1,354.3L1520.1,353.3L1515.4,352.3L1511.1,351.5L1507.1,350.6L1503.3,349.8L1499.7,348.9L1496.2,347.9L1492.6,346.8L1488.9,345.5L1485.4,343.9L1482.0,342.2L1478.5,340.1L1474.8,337.8L1470.8,335.3L1466.4,332.8L1461.4,330.4L1455.8,328.1L1449.2,326.0L1441.6,323.7L1433.3,321.5L1424.9,319.4L1416.7,317.4L1409.3,315.6L1403.0,314.1L1398.5,312.9A1.7,1.7 0 0 0 1397.5,316.2L1397.5,316.2L1402.0,317.7L1408.0,319.8L1415.3,322.2L1423.2,325.0L1431.4,327.8L1439.3,330.8L1446.5,333.6L1452.4,336.2L1457.1,338.8L1461.3,341.4L1465.0,344.1L1468.4,346.8L1471.9,349.6L1475.4,352.3L1479.2,355.0L1483.4,357.3L1487.6,359.3L1491.6,361.0L1495.5,362.5L1499.4,363.8L1503.4,365.1L1507.5,366.2L1511.7,367.5L1516.3,368.8L1521.4,370.2L1526.8,371.7L1532.5,373.1L1538.4,374.6L1544.3,376.0L1550.2,377.5L1555.9,378.9L1561.6,380.3L1567.5,381.3L1573.0,381.5L1577.4,381.5L1580.7,381.6L1583.3,382.1L1585.9,383.0L1589.4,384.9L1594.3,388.3L1601.3,394.1L1610.4,402.4L1620.7,412.4L1631.4,423.1L1642.0,433.9L1651.7,443.8L1659.9,452.2L1665.9,458.3A18.8,18.8 0 0 0 1691.0,430.5Z"/><path d="M1453.4,330.2L1451.4,330.6L1448.6,331.3L1445.3,332.0L1441.6,332.8L1437.8,333.7L1434.1,334.5L1430.8,335.3L1428.0,336.0L1425.5,336.7L1423.2,337.3L1421.1,338.0L1419.2,338.6L1417.5,339.1L1416.0,339.6L1414.7,340.0L1413.7,340.3A1.5,1.5 0 0 0 1414.4,343.3L1414.4,343.3L1415.4,343.1L1416.8,342.9L1418.3,342.7L1420.1,342.4L1422.1,342.1L1424.2,341.8L1426.5,341.5L1429.0,341.1L1431.8,340.7L1435.2,340.2L1438.9,339.7L1442.8,339.1L1446.5,338.6L1449.9,338.1L1452.7,337.7L1454.8,337.4A3.7,3.7 0 0 0 1453.4,330.2Z"/><path d="M1490.2,351.1L1489.9,348.3L1489.6,344.5L1489.1,339.9L1488.7,334.9L1488.2,329.7L1487.6,324.5L1486.9,319.8L1486.2,315.6L1485.5,312.1L1484.7,308.8L1483.8,305.7L1482.9,302.9L1481.9,300.2L1480.9,297.6L1479.8,295.1L1478.5,292.7L1477.1,290.3L1475.5,288.0L1473.7,285.9L1471.9,283.9L1470.2,282.1L1468.7,280.6L1467.4,279.3L1466.5,278.3A1.5,1.5 0 0 0 1464.2,280.3L1464.2,280.3L1465.0,281.4L1466.2,282.8L1467.6,284.4L1469.2,286.3L1470.7,288.3L1472.2,290.4L1473.5,292.5L1474.5,294.7L1475.4,297.0L1476.2,299.3L1476.9,301.8L1477.6,304.4L1478.2,307.2L1478.7,310.1L1479.2,313.3L1479.7,316.7L1480.1,320.6L1480.5,325.3L1480.9,330.3L1481.2,335.5L1481.5,340.5L1481.8,345.1L1482.0,348.9L1482.1,351.7A4.0,4.0 0 0 0 1490.2,351.1Z"/><path d="M1685.6,431.0L1679.9,428.4L1671.9,424.7L1662.3,420.1L1651.6,415.1L1640.5,410.2L1629.6,405.7L1619.4,402.0L1610.4,399.6L1602.5,398.7L1595.5,399.0L1589.4,400.3L1584.1,402.2L1579.6,404.4L1575.6,406.4L1571.8,408.2L1567.5,409.8L1562.3,411.3L1556.7,413.1L1551.0,415.0L1545.3,416.9L1539.7,418.7L1534.2,420.4L1528.9,421.8L1523.9,422.9L1519.0,423.7L1514.0,424.4L1509.2,424.8L1504.3,425.1L1499.6,425.2L1495.1,425.2L1490.7,425.2L1486.5,425.0L1482.5,424.8L1478.5,424.3L1474.5,423.6L1470.8,422.8L1467.2,422.1L1464.1,421.3L1461.4,420.7L1459.3,420.3A1.7,1.7 0 0 0 1458.5,423.6L1458.5,423.6L1460.4,424.2L1463.0,425.1L1466.0,426.2L1469.5,427.4L1473.3,428.6L1477.3,429.8L1481.5,430.8L1485.8,431.6L1490.1,432.3L1494.6,432.9L1499.3,433.4L1504.2,433.8L1509.3,434.1L1514.5,434.2L1519.9,434.1L1525.4,433.7L1531.0,433.1L1536.9,432.1L1542.8,430.9L1548.8,429.5L1554.7,428.1L1560.5,426.8L1566.0,425.6L1571.5,424.5L1577.0,423.1L1582.0,421.3L1586.3,419.6L1590.1,418.2L1593.5,417.3L1596.9,417.0L1600.8,417.3L1605.5,418.6L1612.0,421.3L1620.3,425.7L1629.8,431.2L1639.6,437.3L1649.3,443.5L1658.1,449.3L1665.7,454.3L1671.3,457.7A15.2,15.2 0 0 0 1685.6,431.0Z"/><path d="M1678.1,435.6L1671.4,436.1L1662.2,436.6L1651.1,437.2L1638.9,438.0L1626.3,438.9L1614.1,439.9L1603.0,441.1L1593.6,442.5L1585.9,444.3L1579.4,446.4L1573.9,448.8L1569.2,451.2L1565.3,453.6L1561.8,455.7L1558.3,457.5L1554.5,459.1L1550.2,460.5L1545.7,461.7L1541.2,462.8L1536.6,463.9L1531.9,464.9L1527.0,466.0L1521.9,467.3L1516.6,468.8L1511.1,470.7L1505.5,472.7L1500.0,474.9L1494.4,477.1L1488.8,479.3L1483.3,481.3L1477.8,483.1L1472.4,484.6L1466.7,485.8L1460.4,486.9L1453.8,487.8L1447.2,488.6L1440.9,489.3L1435.2,489.8L1430.4,490.3L1426.8,490.7A1.7,1.7 0 0 0 1426.9,494.1L1426.9,494.1L1430.5,494.2L1435.3,494.4L1441.0,494.7L1447.4,494.9L1454.2,495.0L1461.1,494.9L1467.9,494.6L1474.2,493.9L1480.3,492.8L1486.4,491.2L1492.3,489.5L1498.2,487.5L1503.9,485.6L1509.4,483.7L1514.7,482.1L1519.8,480.8L1524.8,479.7L1529.6,478.9L1534.3,478.2L1539.1,477.5L1543.8,476.9L1548.7,476.2L1553.6,475.5L1558.8,474.5L1564.0,473.2L1568.7,471.7L1573.0,470.3L1577.0,468.9L1581.0,467.8L1585.3,466.8L1590.4,466.0L1596.6,465.4L1604.9,465.1L1615.4,465.0L1627.2,465.0L1639.5,465.2L1651.6,465.4L1662.7,465.6L1672.1,465.8L1678.9,465.9A15.2,15.2 0 0 0 1678.1,435.6Z"/><path d="M1526.2,469.9L1524.4,469.1L1522.0,468.1L1519.2,466.8L1516.0,465.4L1512.7,464.0L1509.4,462.5L1506.2,461.0L1503.4,459.7L1500.7,458.4L1497.8,456.9L1495.0,455.4L1492.2,454.0L1489.6,452.6L1487.2,451.3L1485.2,450.3L1483.7,449.5A1.5,1.5 0 0 0 1482.2,452.1L1482.2,452.1L1483.6,453.0L1485.4,454.3L1487.7,455.7L1490.1,457.4L1492.8,459.1L1495.5,460.9L1498.3,462.7L1500.9,464.3L1503.7,465.9L1506.8,467.6L1510.0,469.4L1513.2,471.2L1516.2,472.8L1519.0,474.3L1521.3,475.6L1523.0,476.5A3.7,3.7 0 0 0 1526.2,469.9Z"/><path d="M1473.1,488.7L1472.0,490.6L1470.5,493.1L1468.7,496.2L1466.7,499.6L1464.7,503.2L1462.7,506.8L1460.9,510.4L1459.4,513.6L1458.2,516.7L1457.2,519.8L1456.4,522.8L1455.6,525.7L1455.0,528.6L1454.4,531.5L1453.9,534.2L1453.5,536.9L1453.1,539.7L1452.9,542.6L1452.8,545.5L1452.7,548.2L1452.6,550.8L1452.6,553.1L1452.6,555.0L1452.6,556.4A1.5,1.5 0 0 0 1455.6,556.6L1455.6,556.6L1455.8,555.2L1455.9,553.2L1456.1,551.0L1456.3,548.4L1456.6,545.7L1457.0,543.0L1457.4,540.3L1457.9,537.7L1458.5,535.1L1459.1,532.5L1459.8,529.8L1460.6,527.1L1461.5,524.3L1462.4,521.6L1463.5,518.8L1464.8,516.1L1466.4,513.2L1468.3,510.0L1470.5,506.7L1472.7,503.3L1474.9,500.2L1477.0,497.3L1478.7,494.8L1480.0,493.0A4.0,4.0 0 0 0 1473.1,488.7Z"/><path d="M1676.1,439.4L1668.4,441.3L1657.5,443.6L1644.3,446.5L1629.9,449.7L1615.3,453.2L1601.2,457.0L1588.8,461.0L1578.7,465.3L1571.1,469.9L1565.1,474.9L1560.7,480.2L1557.6,485.7L1555.4,491.0L1553.9,496.2L1552.5,501.1L1550.9,506.3L1549.1,512.1L1547.6,518.4L1546.5,524.8L1545.7,531.3L1545.1,537.8L1544.5,544.1L1544.0,550.2L1543.4,556.0L1542.8,561.9L1542.4,568.0L1542.0,574.2L1541.6,580.1L1541.3,585.7L1541.1,590.7L1540.9,594.9L1540.7,598.0A1.5,1.5 0 0 0 1543.8,598.4L1543.8,598.4L1544.3,595.2L1544.9,591.1L1545.6,586.1L1546.5,580.6L1547.4,574.8L1548.4,568.8L1549.5,562.8L1550.7,557.1L1551.8,551.3L1553.0,545.2L1554.1,539.1L1555.4,532.9L1556.8,526.9L1558.4,521.1L1560.2,515.7L1562.5,510.6L1564.7,505.6L1566.7,500.7L1568.6,496.4L1570.6,492.8L1572.9,489.6L1576.0,486.8L1580.2,483.9L1585.9,481.1L1594.4,478.2L1606.0,475.3L1619.6,472.5L1634.0,469.9L1648.4,467.5L1661.6,465.4L1672.8,463.5L1680.8,462.1A11.6,11.6 0 0 0 1676.1,439.4Z"/><path d="M1670.4,440.1L1666.5,443.3L1660.9,447.6L1654.0,452.8L1646.4,458.7L1638.6,465.1L1631.0,471.8L1624.2,478.8L1618.5,485.9L1614.3,493.4L1611.6,500.8L1610.0,508.0L1609.1,514.9L1608.4,521.2L1607.6,527.1L1606.6,532.5L1605.0,537.4L1602.6,542.4L1599.7,547.5L1596.5,552.5L1593.0,557.5L1589.4,562.3L1585.8,567.2L1582.3,571.9L1579.1,576.5L1576.1,581.2L1573.0,585.9L1570.0,590.5L1567.1,595.0L1564.4,599.2L1562.1,602.9L1560.0,606.0L1558.5,608.4A1.7,1.7 0 0 0 1561.2,610.4L1561.2,610.4L1563.1,608.2L1565.5,605.4L1568.3,602.0L1571.5,598.2L1574.9,594.1L1578.4,589.9L1582.0,585.6L1585.5,581.4L1589.1,577.3L1593.0,573.1L1597.1,568.8L1601.3,564.2L1605.5,559.5L1609.7,554.5L1613.6,549.2L1617.3,543.6L1620.5,537.4L1622.8,530.9L1624.8,524.6L1626.5,518.5L1628.3,512.8L1630.3,507.6L1632.8,503.0L1635.9,498.9L1640.3,494.5L1646.4,489.3L1653.6,483.9L1661.2,478.5L1668.8,473.3L1675.9,468.7L1682.0,464.6L1686.5,461.4A13.4,13.4 0 0 0 1670.4,440.1Z"/><path d="M1665.9,446.3L1664.5,450.7L1662.7,456.7L1660.4,463.9L1658.0,471.7L1655.5,479.9L1653.1,487.8L1650.9,495.2L1649.0,501.5L1647.5,506.6L1646.1,511.2L1644.7,515.5L1643.4,519.7L1642.1,524.1L1640.9,528.8L1640.0,533.8L1639.3,539.3L1638.8,545.1L1638.7,550.9L1638.8,556.8L1639.0,562.7L1639.3,568.8L1639.7,575.1L1639.9,581.6L1640.1,588.4L1640.1,596.1L1640.1,604.8L1640.1,614.1L1640.0,623.5L1640.0,632.5L1640.0,640.7L1639.9,647.5L1639.9,652.6A1.7,1.7 0 0 0 1643.3,652.8L1643.3,652.8L1643.8,647.7L1644.5,640.9L1645.3,632.8L1646.2,623.8L1647.1,614.4L1648.0,605.2L1648.8,596.5L1649.6,588.8L1650.1,581.8L1650.4,575.2L1650.7,568.8L1651.0,562.8L1651.3,557.0L1651.8,551.6L1652.5,546.5L1653.6,541.7L1654.9,537.4L1656.4,533.7L1658.1,530.3L1660.1,526.8L1662.2,523.2L1664.5,519.1L1667.0,514.4L1669.4,509.0L1672.0,502.8L1675.0,495.6L1678.1,487.8L1681.3,479.9L1684.3,472.3L1687.1,465.3L1689.4,459.5L1691.1,455.2A13.4,13.4 0 0 0 1665.9,446.3Z"/><path d="M1646.5,569.2L1649.6,572.2L1653.8,576.3L1658.7,581.2L1664.3,586.5L1670.0,592.1L1675.8,597.5L1681.2,602.5L1686.1,606.8L1690.7,610.6L1695.3,614.2L1699.9,617.6L1704.4,620.8L1708.5,623.7L1712.1,626.2L1715.2,628.3L1717.5,630.0A1.7,1.7 0 0 0 1719.6,627.3L1719.6,627.3L1717.3,625.5L1714.4,623.1L1710.9,620.4L1707.1,617.3L1702.9,613.8L1698.6,610.2L1694.3,606.4L1690.1,602.4L1685.6,598.0L1680.5,592.7L1675.1,587.1L1669.6,581.3L1664.4,575.6L1659.7,570.5L1655.7,566.2L1652.7,563.1A4.4,4.4 0 0 0 1646.5,569.2Z"/><path d="M1666.6,456.9L1669.4,462.7L1673.3,470.6L1677.9,480.1L1682.9,490.4L1688.1,501.1L1693.1,511.3L1697.6,520.5L1701.3,528.0L1704.4,534.0L1707.1,539.1L1709.5,543.2L1711.5,546.8L1713.4,550.1L1715.1,553.4L1716.7,557.0L1718.4,561.2L1720.0,565.9L1721.5,570.8L1722.9,576.0L1724.2,581.3L1725.4,586.7L1726.4,592.2L1727.3,597.7L1728.1,603.2L1728.6,608.5L1728.9,613.7L1729.1,618.9L1729.1,624.2L1729.0,629.6L1729.0,635.1L1729.0,640.8L1729.1,646.8L1729.4,653.3L1729.7,660.6L1730.1,668.3L1730.5,676.0L1730.8,683.3L1731.2,690.0L1731.5,695.6L1731.7,699.7A2.2,2.2 0 0 0 1736.1,699.9L1736.1,699.9L1736.6,695.8L1737.3,690.2L1738.1,683.6L1738.9,676.3L1739.8,668.6L1740.6,660.9L1741.3,653.6L1741.9,647.1L1742.3,641.1L1742.5,635.4L1742.8,629.8L1742.9,624.4L1743.0,618.9L1743.0,613.4L1743.0,607.9L1742.9,602.2L1742.9,596.5L1742.8,590.7L1742.7,584.8L1742.6,578.9L1742.3,573.0L1741.9,567.2L1741.3,561.3L1740.5,555.7L1739.6,550.4L1738.6,545.7L1737.6,541.1L1736.3,536.6L1734.9,531.9L1733.0,527.0L1730.8,521.5L1728.0,515.2L1724.2,507.3L1719.4,498.0L1714.0,487.8L1708.3,477.3L1702.8,467.2L1697.7,458.0L1693.4,450.2L1690.3,444.6A13.4,13.4 0 0 0 1666.6,456.9Z"/><path d="M1733.2,666.7L1734.2,668.3L1735.5,670.5L1737.1,673.2L1738.8,676.1L1740.6,679.0L1742.2,681.7L1743.5,683.9L1744.4,685.5A1.5,1.5 0 0 0 1747.1,684.0L1747.1,684.0L1746.3,682.4L1745.2,680.0L1743.9,677.2L1742.5,674.2L1741.0,671.1L1739.7,668.3L1738.6,665.9L1737.8,664.3A2.6,2.6 0 0 0 1733.2,666.7Z"/><path d="M1669.8,458.5L1673.8,463.1L1679.1,469.5L1685.4,477.0L1692.4,485.3L1699.7,493.9L1706.9,502.4L1713.7,510.3L1719.6,517.2L1725.0,523.3L1730.2,529.1L1735.3,534.7L1740.2,540.0L1744.9,545.1L1749.5,550.0L1753.9,554.7L1758.1,559.3L1762.3,563.6L1766.2,567.5L1770.0,571.0L1773.4,574.3L1776.6,577.4L1779.5,580.3L1782.2,583.2L1784.6,586.2L1786.7,589.2L1788.5,592.1L1790.2,595.0L1791.6,598.0L1793.1,601.2L1794.5,604.5L1796.0,608.1L1797.6,611.9L1799.4,616.1L1801.3,620.9L1803.3,626.0L1805.2,631.3L1807.1,636.3L1808.8,640.8L1810.2,644.7L1811.2,647.5A2.2,2.2 0 0 0 1815.6,646.3L1815.6,646.3L1815.1,643.4L1814.4,639.4L1813.6,634.6L1812.8,629.3L1811.8,623.7L1810.8,618.2L1809.8,612.9L1808.7,608.2L1807.7,604.2L1806.7,600.4L1805.7,596.7L1804.6,593.0L1803.4,589.3L1801.9,585.5L1800.1,581.6L1798.0,577.5L1795.6,573.5L1792.9,569.5L1790.1,565.7L1787.2,561.9L1784.2,558.0L1781.1,554.1L1777.8,549.9L1774.4,545.5L1770.9,540.6L1767.2,535.5L1763.3,530.0L1759.2,524.4L1754.8,518.5L1750.2,512.4L1745.2,506.1L1739.9,499.7L1733.7,492.7L1726.6,484.9L1719.0,476.7L1711.2,468.5L1703.8,460.6L1697.0,453.5L1691.3,447.5L1687.1,443.1A11.6,11.6 0 0 0 1669.8,458.5Z"/><path d="M1792.8,584.3L1794.7,584.2L1797.0,584.2L1799.9,584.1L1803.1,584.1L1806.6,583.9L1810.4,583.8L1814.2,583.5L1818.1,583.2L1822.3,582.7L1827.1,582.0L1832.2,581.3L1837.3,580.5L1842.3,579.7L1846.8,579.0L1850.5,578.4L1853.3,578.0A1.9,1.9 0 0 0 1853.0,574.2L1853.0,574.2L1850.2,574.3L1846.4,574.4L1841.8,574.5L1836.8,574.6L1831.6,574.7L1826.5,574.7L1821.8,574.8L1817.7,574.8L1814.0,574.7L1810.3,574.6L1806.7,574.4L1803.2,574.3L1800.1,574.1L1797.2,573.9L1794.8,573.8L1792.9,573.7A5.3,5.3 0 0 0 1792.8,584.3Z"/><path d="M1673.9,455.0L1682.1,459.2L1693.7,465.1L1707.4,472.0L1722.2,479.6L1737.1,487.3L1750.9,494.5L1762.5,500.8L1770.6,505.4L1775.1,508.1L1777.2,509.1L1777.7,508.3L1778.3,506.9L1779.5,507.0L1780.9,509.6L1782.7,514.2L1785.3,518.7L1787.7,522.2L1789.7,525.2L1791.6,528.5L1793.5,531.9L1795.3,535.5L1797.2,539.1L1799.1,542.7L1801.0,546.3L1803.2,550.0L1805.5,554.0L1807.8,558.0L1810.1,562.0L1812.3,565.7L1814.3,569.1L1816.0,572.0L1817.2,574.1A2.4,2.4 0 0 0 1821.7,572.3L1821.7,572.3L1821.2,569.9L1820.4,566.7L1819.5,562.9L1818.5,558.6L1817.4,554.1L1816.3,549.6L1815.2,545.2L1814.2,541.1L1813.3,537.3L1812.4,533.4L1811.4,529.5L1810.4,525.5L1809.4,521.4L1808.3,517.4L1807.2,513.2L1806.2,509.7L1806.4,507.8L1807.4,506.6L1808.4,503.8L1808.7,498.5L1807.1,491.4L1803.1,484.5L1797.3,478.5L1789.5,473.1L1779.1,467.7L1765.7,462.2L1750.5,456.5L1734.4,450.9L1718.4,445.5L1703.8,440.7L1691.6,436.7L1683.0,433.7A11.6,11.6 0 0 0 1673.9,455.0Z"/><path d="M1799.6,543.5L1799.0,544.5L1798.1,545.9L1797.1,547.6L1796.0,549.4L1794.9,551.3L1793.9,553.0L1793.1,554.4L1792.5,555.4A2.2,2.2 0 0 0 1795.9,558.3L1795.9,558.3L1796.8,557.6L1798.1,556.6L1799.6,555.4L1801.3,554.0L1803.0,552.7L1804.5,551.5L1805.8,550.5L1806.7,549.7A4.8,4.8 0 0 0 1799.6,543.5Z"/><path d="M1675.5,459.2L1682.7,461.2L1692.7,463.7L1704.6,466.8L1717.4,470.2L1730.5,473.7L1742.9,477.2L1753.7,480.4L1761.9,483.1L1767.5,485.3L1771.7,487.3L1775.2,489.3L1778.6,491.3L1782.3,493.7L1786.7,496.6L1792.1,499.8L1798.2,502.8L1804.3,505.2L1810.0,507.0L1815.4,508.5L1820.5,509.8L1825.4,511.1L1830.3,512.4L1835.3,513.9L1840.6,515.9L1846.6,518.5L1853.2,521.5L1860.2,524.9L1867.4,528.4L1874.5,532.1L1881.5,535.7L1888.1,539.2L1894.0,542.4L1899.3,545.2L1903.9,547.9L1908.3,550.6L1912.5,553.2L1916.8,555.9L1921.3,558.8L1926.1,561.7L1931.3,564.8L1937.3,568.2L1944.0,571.9L1951.1,575.9L1958.3,579.8L1965.1,583.5L1971.3,586.9L1976.5,589.7L1980.3,591.8A1.9,1.9 0 0 0 1982.4,588.6L1982.4,588.6L1978.9,586.0L1974.2,582.4L1968.5,578.2L1962.3,573.5L1955.9,568.5L1949.5,563.6L1943.6,558.9L1938.4,554.7L1934.1,550.9L1930.2,547.2L1926.6,543.7L1923.0,540.1L1919.4,536.4L1915.4,532.6L1910.9,528.7L1905.8,524.6L1900.2,520.2L1894.0,515.7L1887.5,510.9L1880.7,506.2L1873.8,501.4L1867.0,496.9L1860.4,492.7L1854.2,488.8L1848.1,485.4L1842.3,482.4L1836.9,479.8L1831.8,477.5L1827.1,475.4L1822.8,473.4L1818.8,471.4L1815.1,469.3L1812.1,467.2L1809.5,464.9L1806.4,462.1L1802.4,458.7L1797.4,454.8L1791.1,450.9L1783.5,447.2L1774.5,444.0L1763.9,441.4L1751.6,439.0L1738.2,436.9L1724.4,435.0L1711.0,433.2L1698.8,431.7L1688.7,430.5L1681.4,429.5A15.2,15.2 0 0 0 1675.5,459.2Z"/><path d="M1865.3,516.0L1868.2,515.2L1872.1,514.2L1876.7,513.0L1881.8,511.6L1887.2,510.2L1892.7,508.9L1898.2,507.6L1903.3,506.6L1908.5,505.6L1914.3,504.7L1920.3,503.8L1926.3,503.0L1932.0,502.2L1937.1,501.5L1941.4,501.0L1944.7,500.5A1.7,1.7 0 0 0 1944.3,497.2L1944.3,497.2L1941.1,497.4L1936.7,497.7L1931.6,498.1L1925.8,498.5L1919.8,499.0L1913.7,499.5L1907.8,500.1L1902.4,500.7L1897.0,501.5L1891.4,502.3L1885.7,503.3L1880.2,504.3L1875.0,505.3L1870.3,506.1L1866.4,506.8L1863.4,507.4A4.4,4.4 0 0 0 1865.3,516.0Z"/><path d="M1677.2,457.7L1684.9,458.4L1695.6,459.7L1708.6,461.2L1722.8,462.8L1737.5,464.1L1751.8,465.0L1765.0,465.0L1776.3,464.0L1785.7,461.7L1793.6,458.3L1800.1,454.1L1805.3,449.3L1809.4,444.5L1812.8,439.8L1815.9,435.5L1819.2,431.3L1823.1,426.8L1827.3,421.9L1831.4,416.7L1835.3,411.4L1839.0,405.9L1842.2,400.2L1845.0,394.4L1847.1,388.4L1848.4,382.4L1849.0,376.2L1849.1,370.1L1848.7,364.1L1848.1,358.2L1847.2,352.4L1846.4,346.8L1845.6,341.4L1844.6,335.8L1843.4,329.9L1842.0,324.1L1840.4,318.4L1838.9,313.1L1837.5,308.3L1836.4,304.4L1835.6,301.4A1.7,1.7 0 0 0 1832.3,302.1L1832.3,302.1L1832.8,305.2L1833.5,309.3L1834.4,314.1L1835.4,319.5L1836.4,325.2L1837.2,331.1L1837.9,336.8L1838.3,342.2L1838.6,347.7L1839.1,353.3L1839.5,358.9L1839.7,364.6L1839.7,370.1L1839.2,375.3L1838.3,380.3L1836.7,384.9L1834.5,389.4L1831.7,393.9L1828.3,398.4L1824.5,402.8L1820.4,407.1L1816.0,411.2L1811.5,415.2L1806.9,419.0L1802.4,422.8L1798.2,426.5L1794.4,429.7L1790.8,432.2L1787.2,434.1L1783.4,435.5L1778.8,436.7L1772.9,437.5L1764.4,437.9L1752.9,437.6L1739.6,436.8L1725.4,435.6L1711.5,434.2L1698.6,432.9L1687.6,431.7L1679.7,431.0A13.4,13.4 0 0 0 1677.2,457.7Z"/><path d="M1845.9,387.1L1848.5,385.4L1851.9,383.0L1856.1,380.2L1860.6,377.1L1865.4,373.7L1870.2,370.3L1874.9,366.9L1879.1,363.7L1883.2,360.4L1887.5,356.9L1891.8,353.2L1896.0,349.5L1900.0,346.0L1903.5,342.9L1906.4,340.3L1908.7,338.3A1.7,1.7 0 0 0 1906.6,335.7L1906.6,335.7L1904.2,337.4L1901.0,339.8L1897.2,342.6L1893.0,345.7L1888.5,349.0L1883.9,352.3L1879.5,355.4L1875.2,358.3L1870.9,361.2L1866.2,364.3L1861.2,367.4L1856.3,370.4L1851.6,373.3L1847.4,375.9L1843.8,378.1L1841.1,379.8A4.4,4.4 0 0 0 1845.9,387.1Z"/><path d="M1823.3,436.3L1827.7,435.6L1833.6,434.7L1840.6,433.7L1848.3,432.5L1856.5,431.4L1864.9,430.2L1873.0,429.2L1880.6,428.4L1888.3,427.8L1896.6,427.2L1905.2,426.8L1913.7,426.3L1921.7,426.0L1929.0,425.7L1935.1,425.4L1939.7,425.2A1.7,1.7 0 0 0 1939.6,421.8L1939.6,421.8L1935.1,421.8L1929.0,421.7L1921.7,421.6L1913.6,421.5L1905.0,421.5L1896.4,421.5L1888.0,421.6L1880.2,421.8L1872.4,422.2L1864.1,422.8L1855.7,423.6L1847.3,424.3L1839.5,425.1L1832.5,425.8L1826.6,426.4L1822.1,426.8A4.8,4.8 0 0 0 1823.3,436.3Z"/><path d="M1689.3,448.5L1691.5,442.7L1694.5,434.6L1698.0,425.1L1701.9,414.9L1706.0,404.5L1710.0,394.7L1713.8,386.3L1717.1,380.0L1719.8,375.9L1722.4,372.8L1725.1,370.1L1728.3,367.7L1732.0,365.0L1736.2,362.0L1740.7,358.3L1745.0,353.9L1748.8,349.1L1752.6,344.3L1756.4,339.3L1760.2,334.1L1763.7,328.7L1767.1,323.2L1770.1,317.6L1772.8,312.0L1775.0,306.0L1776.8,299.6L1778.3,293.0L1779.5,286.5L1780.5,280.4L1781.4,274.9L1782.1,270.3L1782.7,266.9A1.7,1.7 0 0 0 1779.4,266.0L1779.4,266.0L1778.2,269.4L1776.8,273.8L1775.2,279.1L1773.3,284.9L1771.2,290.9L1768.8,296.9L1766.3,302.5L1763.6,307.5L1760.7,312.1L1757.3,316.8L1753.7,321.5L1749.8,326.1L1745.8,330.6L1741.7,334.9L1737.6,338.9L1733.7,342.5L1730.2,345.1L1726.7,346.9L1722.8,348.6L1718.4,350.4L1713.3,352.9L1708.0,356.4L1702.6,361.3L1697.5,367.7L1692.9,375.7L1688.4,385.2L1684.0,395.7L1679.9,406.5L1676.0,417.1L1672.6,426.7L1669.8,434.6L1667.7,440.2A11.6,11.6 0 0 0 1689.3,448.5Z"/><path d="M1770.7,312.1L1773.3,311.4L1777.0,310.4L1781.3,309.2L1786.0,307.9L1790.8,306.7L1795.5,305.6L1799.9,304.8L1803.5,304.3L1806.8,304.3L1810.0,304.5L1813.2,305.0L1816.2,305.6L1819.1,306.3L1821.6,307.0L1823.8,307.6L1825.5,308.0A1.5,1.5 0 0 0 1826.3,305.1L1826.3,305.1L1824.7,304.6L1822.7,303.8L1820.2,302.9L1817.3,301.8L1814.2,300.9L1810.8,300.0L1807.1,299.4L1803.4,299.1L1799.2,299.3L1794.6,299.8L1789.6,300.5L1784.5,301.3L1779.7,302.2L1775.3,303.1L1771.6,303.7L1769.0,304.2A4.0,4.0 0 0 0 1770.7,312.1Z"/><path d="M1687.9,447.0L1689.5,441.5L1691.7,434.1L1694.4,425.3L1697.3,415.5L1700.2,405.2L1703.1,394.9L1705.6,385.0L1707.6,376.1L1709.0,367.9L1710.2,359.9L1711.1,352.2L1711.7,344.7L1712.3,337.4L1712.7,330.4L1713.2,323.7L1713.8,317.1L1714.3,310.6L1714.6,304.3L1714.7,298.3L1714.9,292.6L1715.2,287.2L1715.6,282.1L1716.4,277.3L1717.5,272.7L1719.2,268.2L1721.6,263.4L1724.4,258.7L1727.5,254.1L1730.5,249.9L1733.4,246.0L1735.8,242.8L1737.5,240.3A1.7,1.7 0 0 0 1734.8,238.2L1734.8,238.2L1732.9,240.4L1730.1,243.3L1726.8,246.8L1723.2,250.8L1719.5,255.1L1715.9,259.8L1712.6,264.7L1710.0,269.8L1708.0,275.1L1706.5,280.5L1705.4,286.0L1704.5,291.6L1703.7,297.4L1702.9,303.2L1702.0,309.1L1700.8,315.2L1699.4,321.6L1698.0,328.3L1696.5,335.1L1694.9,342.1L1693.2,349.2L1691.5,356.5L1689.7,364.0L1687.8,371.6L1685.6,380.0L1683.1,389.6L1680.4,399.7L1677.7,409.9L1675.0,419.8L1672.6,428.7L1670.6,436.1L1669.0,441.7A9.8,9.8 0 0 0 1687.9,447.0Z"/><path d="M1715.0,272.8L1713.7,270.8L1712.0,268.1L1710.0,264.9L1707.7,261.4L1705.5,257.7L1703.3,254.1L1701.3,250.7L1699.7,247.9L1698.4,245.3L1697.3,242.7L1696.2,240.2L1695.3,237.9L1694.5,235.7L1693.8,233.7L1693.2,232.0L1692.7,230.7A1.5,1.5 0 0 0 1689.8,231.7L1689.8,231.7L1690.2,233.0L1690.7,234.7L1691.2,236.7L1691.9,239.0L1692.6,241.5L1693.5,244.2L1694.5,247.0L1695.7,249.8L1697.1,252.9L1698.9,256.5L1700.8,260.3L1702.9,264.2L1704.8,267.9L1706.6,271.3L1708.2,274.1L1709.2,276.1A3.3,3.3 0 0 0 1715.0,272.8Z"/><path d="M1686.1,438.2L1681.2,432.2L1674.4,423.8L1666.3,413.9L1657.6,403.0L1648.8,392.0L1640.7,381.6L1633.9,372.5L1629.1,365.6L1626.2,360.8L1624.5,357.6L1623.7,355.7L1623.2,354.4L1623.0,352.8L1623.3,350.3L1623.7,346.8L1624.0,342.7L1624.3,338.6L1624.7,334.5L1625.4,330.2L1626.3,325.8L1627.4,321.4L1628.7,317.0L1630.0,312.6L1631.5,308.4L1633.2,304.5L1635.1,300.5L1637.2,296.6L1639.6,292.7L1642.0,288.7L1644.5,284.6L1646.9,280.5L1649.3,276.1L1651.7,271.5L1654.2,266.5L1656.8,261.2L1659.4,256.0L1661.8,251.1L1663.9,246.6L1665.8,242.8L1667.1,240.0A1.7,1.7 0 0 0 1664.1,238.4L1664.1,238.4L1662.6,241.1L1660.4,244.7L1657.9,249.0L1655.1,253.7L1652.1,258.7L1649.1,263.7L1646.2,268.5L1643.5,272.8L1641.0,276.8L1638.3,280.7L1635.6,284.5L1632.8,288.3L1630.1,292.2L1627.5,296.2L1625.1,300.3L1622.8,304.6L1620.8,309.1L1618.9,313.6L1617.2,318.2L1615.6,322.9L1614.2,327.6L1613.0,332.2L1611.9,336.7L1611.1,340.9L1610.2,344.0L1609.1,346.5L1607.8,349.4L1606.7,353.2L1606.4,358.0L1607.1,363.3L1609.1,369.1L1612.4,375.7L1617.6,383.9L1624.7,393.7L1633.1,404.4L1642.1,415.6L1651.0,426.4L1659.2,436.3L1666.0,444.6L1670.8,450.5A9.8,9.8 0 0 0 1686.1,438.2Z"/><path d="M1630.5,305.1L1629.7,303.3L1628.5,300.8L1627.1,297.9L1625.5,294.7L1623.9,291.5L1622.4,288.3L1621.1,285.5L1620.0,283.2L1619.2,281.3L1618.4,279.6L1617.8,278.0L1617.3,276.6L1616.8,275.4L1616.5,274.3L1616.1,273.3L1615.8,272.5A1.5,1.5 0 0 0 1612.9,273.3L1612.9,273.3L1613.0,274.1L1613.1,275.0L1613.2,276.2L1613.4,277.6L1613.7,279.2L1614.0,280.9L1614.5,282.9L1615.1,285.0L1616.0,287.6L1617.1,290.6L1618.3,293.9L1619.6,297.3L1620.9,300.6L1622.1,303.6L1623.1,306.2L1623.8,308.0A3.7,3.7 0 0 0 1630.5,305.1Z"/><path d="M1685.5,437.5L1680.0,431.9L1672.4,424.1L1663.4,414.9L1653.6,404.8L1643.6,394.5L1634.1,384.4L1625.7,375.1L1619.0,367.4L1613.9,361.1L1609.7,355.5L1606.3,350.5L1603.3,345.8L1600.7,341.3L1598.2,336.5L1595.6,331.4L1592.9,325.9L1590.1,320.1L1587.5,314.0L1584.9,307.6L1582.5,301.1L1580.1,294.6L1577.9,288.3L1575.7,282.2L1573.7,276.5L1571.8,271.1L1569.9,265.7L1568.1,260.4L1566.4,255.4L1564.9,250.7L1563.5,246.6L1562.4,243.1L1561.5,240.4A1.7,1.7 0 0 0 1558.2,241.3L1558.2,241.3L1558.7,244.0L1559.4,247.6L1560.1,251.9L1560.9,256.7L1561.9,262.0L1562.9,267.5L1564.1,273.2L1565.3,278.9L1566.5,284.7L1567.7,291.0L1569.1,297.7L1570.5,304.6L1572.1,311.6L1573.9,318.6L1575.9,325.5L1578.1,332.0L1580.3,338.0L1582.3,343.6L1584.5,349.0L1586.9,354.6L1589.9,360.3L1593.5,366.4L1597.9,373.0L1603.3,380.3L1610.4,388.7L1619.2,398.3L1629.0,408.6L1639.2,419.0L1649.2,429.0L1658.4,438.1L1666.0,445.6L1671.5,451.2A9.8,9.8 0 0 0 1685.5,437.5Z"/></g></defs>
<use href="#mg" fill="#cfcfcd" stroke="#cfcfcd" stroke-width="3.5" stroke-linejoin="round"/>
<use href="#mg" fill="#e0dfdc"/>
<ellipse cx="1676" cy="457" rx="25" ry="23" fill="#d0d0d0"/>
<defs><g id="nr"><path d="M131.2,803.3L134.7,801.6L140.5,800.5L146.9,799.5L152.0,798.1L155.2,796.0L157.6,793.5L159.8,791.1L162.4,789.5L165.4,788.9L168.6,788.9L172.2,789.3L176.2,789.5L181.0,789.6L186.4,789.9L191.9,789.9L197.0,789.5L201.7,787.9L206.2,785.5L210.4,783.3L214.3,782.5L217.9,783.4L221.3,785.3L224.2,788.1L226.4,791.2L227.5,794.9L227.8,799.3L227.8,804.0L228.1,808.5L229.0,812.8L230.0,817.2L230.9,821.5L231.6,825.8L231.8,830.1L231.6,834.5L231.4,838.8L231.6,843.1L232.7,847.5L234.4,851.9L235.6,856.2L235.1,860.4L232.3,864.7L227.9,869.0L222.8,873.0L217.8,876.0L212.5,877.8L206.9,878.6L201.5,879.2L197.0,880.4L193.6,882.1L191.1,884.2L189.1,886.7L187.5,889.9L186.5,894.4L186.3,900.0L186.0,905.3L184.9,908.9L182.5,910.7L179.3,911.3L176.1,910.7L173.6,908.9L172.4,905.4L171.9,900.4L171.4,894.8L170.1,889.9L168.0,885.9L165.4,882.4L162.3,878.7L158.9,874.3L154.7,868.4L149.7,861.6L145.1,855.1L141.6,850.1L139.5,847.3L138.4,845.9L138.0,844.9L138.1,843.1L139.0,840.2L140.8,836.6L142.5,832.9L143.3,829.3L142.8,825.8L141.5,822.2L139.8,818.8L138.1,815.4L135.9,812.1L133.0,808.8L131.0,805.8Z"/><path d="M197.0,830.7L195.1,827.3L192.5,822.7L189.4,817.1L186.1,811.1L182.7,805.0L179.6,799.0L177.0,793.6L175.0,789.2L173.8,785.8L172.9,782.7L172.4,779.9L172.1,777.4L171.9,774.8L171.8,772.3L171.7,769.5L171.5,766.8L171.3,764.1L171.1,761.4L171.0,758.8L170.9,756.3L170.8,753.9L170.8,751.7L170.7,749.7L170.7,747.9L170.6,746.6L170.6,745.5L170.5,744.7L170.5,744.1L170.5,743.7L170.5,743.3L170.5,743.0L170.5,742.7A3.8,3.8 0 0 0 162.9,742.7L162.9,742.7L162.9,743.0L162.9,743.3L162.9,743.7L162.8,744.1L162.8,744.7L162.8,745.5L162.8,746.6L162.7,747.9L162.6,749.5L162.5,751.5L162.3,753.7L162.2,756.2L162.0,758.8L161.9,761.6L161.8,764.4L161.8,767.1L161.8,769.7L161.7,772.1L161.5,774.8L161.4,777.8L161.5,781.0L161.8,784.7L162.5,788.7L163.5,793.1L165.2,798.4L167.4,804.4L170.0,810.9L172.7,817.6L175.4,824.0L177.9,829.8L179.9,834.7L181.4,838.2A8.7,8.7 0 0 0 197.0,830.7Z"/><path d="M168.8,743.2L168.0,742.7L167.1,742.1L166.0,741.3L164.7,740.5L163.4,739.6L162.0,738.7L160.6,737.7L159.3,736.7L158.0,735.7L156.8,734.6L155.4,733.2L154.0,731.8L152.4,730.4L150.6,728.9L148.6,727.5L146.5,726.3L144.1,725.1L141.6,724.0L138.9,722.9L136.1,721.8L133.2,720.9L130.3,720.1L127.4,719.5L124.5,719.2L121.5,719.2L118.4,719.5L115.4,720.0L112.4,720.7L109.7,721.4L107.3,722.1L105.3,722.7L103.8,723.0A2.4,2.4 0 0 0 104.9,727.8L104.9,727.8L106.5,727.4L108.5,726.9L111.0,726.4L113.6,725.8L116.3,725.2L119.1,724.8L121.7,724.6L124.1,724.7L126.4,725.0L128.9,725.6L131.6,726.3L134.2,727.2L136.8,728.2L139.3,729.3L141.6,730.4L143.6,731.4L145.4,732.5L146.9,733.7L148.3,734.9L149.6,736.3L150.9,737.7L152.3,739.1L153.6,740.5L155.1,741.8L156.5,743.0L157.9,744.1L159.3,745.2L160.7,746.2L161.9,747.1L163.0,747.9L163.9,748.6L164.6,749.1A3.6,3.6 0 0 0 168.8,743.2Z"/><path d="M170.2,743.7L169.9,742.4L169.5,740.6L169.1,738.4L168.5,735.9L167.8,733.2L167.1,730.6L166.2,728.1L165.1,725.7L163.8,723.7L162.4,721.8L160.8,720.2L159.3,718.7L157.8,717.3L156.4,716.0L155.2,714.7L154.2,713.4L153.3,712.0L152.3,710.6L151.4,709.2L150.6,707.9L150.0,706.7L149.6,705.5L149.4,704.4L149.4,703.2L149.6,701.7L150.3,699.9L151.3,697.8L152.4,695.5L153.7,693.4L154.8,691.4L155.8,689.7L156.5,688.4A2.3,2.3 0 0 0 152.6,686.2L152.6,686.2L151.9,687.4L150.9,689.0L149.6,690.9L148.3,693.1L146.9,695.5L145.7,697.9L144.7,700.3L144.2,702.6L144.1,704.8L144.5,706.8L145.1,708.7L145.9,710.4L146.8,712.0L147.7,713.6L148.7,715.0L149.7,716.6L150.9,718.3L152.3,719.9L153.7,721.4L155.2,722.8L156.5,724.3L157.7,725.7L158.8,727.1L159.6,728.5L160.2,730.3L160.8,732.4L161.4,734.8L161.8,737.2L162.2,739.6L162.6,741.9L162.9,743.8L163.1,745.2A3.6,3.6 0 0 0 170.2,743.7Z"/><path d="M172.4,781.4L172.8,778.3L173.4,774.1L174.0,769.1L174.8,763.6L175.6,758.0L176.4,752.5L177.3,747.6L178.0,743.5L178.8,740.1L179.6,737.1L180.3,734.4L181.1,732.0L182.0,729.7L182.8,727.5L183.6,725.3L184.5,723.1L185.2,720.9L185.8,719.0L186.2,717.3L186.6,715.9L187.1,714.6L187.8,713.3L188.8,711.9L190.3,710.2L192.6,708.2L195.7,705.9L199.3,703.3L203.1,700.7L206.9,698.3L210.4,696.0L213.4,694.1L215.5,692.7A2.3,2.3 0 0 0 213.1,688.9L213.1,688.9L210.9,690.2L207.9,691.9L204.3,694.0L200.4,696.4L196.3,698.9L192.5,701.3L189.1,703.7L186.3,705.9L184.3,708.0L182.7,709.9L181.6,711.8L180.7,713.7L180.1,715.5L179.6,717.2L179.1,718.9L178.3,720.8L177.4,722.8L176.5,725.0L175.6,727.2L174.6,729.6L173.7,732.3L172.7,735.2L171.8,738.4L170.9,741.9L170.0,746.2L169.1,751.3L168.1,756.8L167.2,762.5L166.4,768.0L165.6,773.0L165.0,777.2L164.5,780.2A4.0,4.0 0 0 0 172.4,781.4Z"/><path d="M197.1,837.9L198.6,834.3L200.5,829.5L202.8,823.8L205.3,817.6L207.9,811.3L210.6,805.3L213.2,799.9L215.5,795.6L217.9,792.0L220.5,788.7L223.3,785.5L226.3,782.5L229.5,779.5L232.6,776.5L235.7,773.4L238.5,770.4L241.0,767.4L243.3,764.6L245.5,761.9L247.5,759.4L249.3,756.9L251.0,754.5L252.6,752.3L253.9,750.2L255.1,748.3L256.1,746.6L257.1,745.0L258.0,743.4L258.7,741.7L259.2,739.8L259.4,737.7L259.3,735.6L259.0,733.3L258.3,730.9L257.5,728.5L256.5,726.0L255.4,723.6L254.1,721.2L252.8,719.0L251.3,716.8L249.6,714.7L247.6,712.6L245.5,710.5L243.3,708.6L241.2,706.8L239.3,705.3L237.7,704.0L236.6,703.0A2.3,2.3 0 0 0 233.5,706.3L233.5,706.3L234.6,707.4L236.1,708.8L237.9,710.5L239.8,712.4L241.8,714.3L243.6,716.3L245.2,718.3L246.5,720.1L247.6,722.1L248.7,724.1L249.7,726.3L250.6,728.5L251.3,730.6L251.9,732.6L252.3,734.4L252.4,736.0L252.3,737.3L252.1,738.3L251.8,739.2L251.4,740.1L250.7,741.1L249.8,742.4L248.7,743.9L247.4,745.7L246.0,747.6L244.4,749.6L242.7,751.7L240.8,754.0L238.8,756.3L236.6,758.7L234.2,761.1L231.6,763.5L228.9,765.8L225.7,767.9L222.2,770.2L218.4,772.6L214.4,775.4L210.3,778.6L206.4,782.4L202.6,786.8L199.2,792.1L195.9,798.1L192.7,804.5L189.8,811.1L187.1,817.3L184.7,823.0L182.7,827.7L181.2,831.0A8.7,8.7 0 0 0 197.1,837.9Z"/><path d="M253.5,752.6L255.3,751.8L257.8,751.0L261.0,749.9L264.4,748.7L268.1,747.3L271.7,745.6L275.2,743.7L278.4,741.4L281.2,738.7L283.9,735.4L286.5,731.9L288.9,728.3L291.0,724.8L293.0,721.6L294.6,719.0L295.8,717.1A2.3,2.3 0 0 0 292.1,714.6L292.1,714.6L290.7,716.5L289.0,719.1L287.0,722.2L284.7,725.5L282.3,728.9L279.8,732.1L277.3,734.9L274.9,737.1L272.3,738.8L269.2,740.4L265.9,741.8L262.4,743.1L259.0,744.2L256.0,745.2L253.3,746.0L251.3,746.7A3.1,3.1 0 0 0 253.5,752.6Z"/><path d="M257.9,759.5L259.7,759.3L262.0,758.9L264.8,758.5L267.8,758.1L271.0,757.8L274.2,757.5L277.2,757.4L279.8,757.4L282.3,757.8L285.0,758.4L287.7,759.3L290.5,760.2L293.3,761.2L296.0,761.9L298.6,762.4L301.1,762.4L303.5,761.8L305.5,760.5L307.1,759.0L308.4,757.4L309.4,755.8L310.2,754.4L310.8,753.4L311.3,752.7A2.3,2.3 0 0 0 307.7,750.0L307.7,750.0L307.1,750.9L306.3,752.1L305.5,753.4L304.6,754.7L303.6,755.8L302.6,756.7L301.6,757.3L300.6,757.6L299.1,757.6L297.2,757.2L294.8,756.4L292.2,755.5L289.3,754.5L286.4,753.5L283.4,752.7L280.3,752.2L277.2,752.1L273.9,752.1L270.5,752.3L267.2,752.6L264.1,752.9L261.3,753.2L259.0,753.5L257.3,753.6A2.9,2.9 0 0 0 257.9,759.5Z"/><path d="M194.1,841.6L196.9,839.5L200.6,836.7L205.0,833.3L209.7,829.7L214.6,826.1L219.3,822.9L223.5,820.3L226.9,818.5L229.5,817.6L232.2,817.1L235.0,816.9L238.1,817.0L241.4,817.3L244.9,817.7L248.6,818.0L252.4,817.9L255.9,817.5L259.4,817.2L262.9,816.9L266.3,816.5L269.7,816.0L273.1,815.3L276.4,814.5L279.6,813.5L282.6,812.1L285.1,810.3L287.2,808.5L289.1,806.7L290.9,805.0L292.9,803.5L295.3,802.2L298.2,801.1L302.3,800.2L307.5,799.3L313.4,798.5L319.6,797.8L325.6,797.3L331.1,796.8L335.8,796.4L339.1,796.0A2.3,2.3 0 0 0 338.8,791.5L338.8,791.5L335.4,791.8L330.8,792.0L325.2,792.2L319.1,792.5L312.9,793.0L306.8,793.5L301.3,794.2L296.6,795.1L292.7,796.4L289.5,798.1L286.9,799.9L284.7,801.8L282.8,803.5L281.0,804.9L279.3,806.1L277.1,807.0L274.5,807.7L271.7,808.3L268.6,808.8L265.5,809.2L262.2,809.4L258.9,809.6L255.6,809.6L252.4,809.5L249.5,809.2L246.6,808.4L243.5,807.4L240.2,806.3L236.4,805.2L232.2,804.6L227.5,804.5L222.5,805.4L217.2,807.3L211.8,810.0L206.2,813.1L200.7,816.6L195.5,820.0L190.9,823.1L187.1,825.6L184.3,827.3A8.7,8.7 0 0 0 194.1,841.6Z"/><path d="M289.3,809.3L290.7,809.9L292.6,810.7L294.8,811.6L297.3,812.7L299.7,813.8L302.2,815.0L304.4,816.3L306.2,817.5L307.8,818.8L309.3,820.3L310.8,822.0L312.2,823.8L313.6,825.6L315.1,827.5L316.6,829.3L318.2,831.0L319.9,832.6L321.6,834.1L323.5,835.7L325.2,837.1L326.9,838.5L328.4,839.7L329.7,840.6L330.6,841.4A2.3,2.3 0 0 0 333.5,837.9L333.5,837.9L332.5,837.1L331.3,836.1L329.8,834.9L328.2,833.5L326.5,832.1L324.8,830.6L323.1,829.1L321.6,827.6L320.3,826.1L318.9,824.4L317.6,822.6L316.2,820.7L314.7,818.8L313.1,816.9L311.3,815.1L309.4,813.4L307.1,811.8L304.7,810.4L302.1,809.0L299.5,807.8L297.0,806.7L294.8,805.7L293.0,804.9L291.6,804.3A2.8,2.8 0 0 0 289.3,809.3Z"/><path d="M304.4,815.6L302.5,815.5L299.6,815.3L296.2,815.0L292.4,814.7L288.6,814.5L284.9,814.6L281.7,814.9L278.9,815.9L276.9,817.8L275.8,820.1L275.5,822.5L275.6,824.9L276.0,827.2L276.3,829.3L276.7,831.2L276.8,832.9L276.9,834.5L277.0,836.4L277.2,838.2L277.4,839.9L277.6,841.5L277.7,843.0L277.9,844.1L278.0,845.0A2.1,2.1 0 0 0 282.2,844.7L282.2,844.7L282.1,843.7L282.0,842.5L281.9,841.1L281.8,839.5L281.8,837.8L281.7,836.1L281.6,834.4L281.6,832.6L281.5,830.6L281.2,828.5L280.8,826.4L280.5,824.4L280.4,822.6L280.5,821.3L280.8,820.6L281.3,820.1L282.7,819.7L285.2,819.4L288.5,819.4L292.1,819.5L295.8,819.8L299.2,820.1L302.1,820.3L304.2,820.4A2.4,2.4 0 0 0 304.4,815.6Z"/><path d="M184.2,841.6L186.8,843.3L190.3,845.8L194.6,848.8L199.4,852.2L204.5,855.6L209.6,858.8L214.8,861.7L219.6,864.0L224.1,865.6L228.5,866.7L232.7,867.5L236.8,867.9L240.7,868.1L244.5,868.2L248.2,868.3L251.9,868.4L255.4,868.5L258.9,868.7L262.2,868.8L265.6,868.8L269.1,868.7L272.7,868.4L276.5,868.0L280.6,867.3L285.3,866.4L290.5,865.0L296.0,863.5L301.6,861.8L306.9,860.2L311.7,858.7L315.8,857.4L318.7,856.6A2.3,2.3 0 0 0 317.6,852.2L317.6,852.2L314.5,852.9L310.4,853.9L305.5,855.1L300.1,856.4L294.5,857.7L289.1,858.9L284.0,859.9L279.6,860.5L275.7,860.8L272.2,861.1L268.9,861.1L265.7,861.1L262.6,860.9L259.5,860.5L256.3,860.1L252.9,859.4L249.4,858.7L246.0,857.9L242.6,856.9L239.3,855.8L236.0,854.6L232.8,853.2L229.6,851.7L226.3,849.9L222.7,847.8L218.4,845.0L213.8,841.8L209.1,838.4L204.5,835.1L200.4,832.0L196.8,829.3L194.2,827.4A8.7,8.7 0 0 0 184.2,841.6Z"/><path d="M271.2,874.7L272.2,875.7L273.7,876.9L275.4,878.3L277.2,879.9L279.0,881.6L280.7,883.2L282.1,884.7L283.0,886.0L283.6,887.2L284.0,888.5L284.3,890.1L284.5,891.6L284.6,893.2L284.6,894.6L284.7,895.9L284.8,897.0A2.3,2.3 0 0 0 289.3,896.7L289.3,896.7L289.2,895.8L289.3,894.6L289.3,893.1L289.3,891.4L289.2,889.5L288.9,887.5L288.4,885.4L287.5,883.4L286.3,881.5L284.7,879.5L282.9,877.6L281.0,875.8L279.2,874.1L277.5,872.6L276.1,871.3L275.2,870.4A2.9,2.9 0 0 0 271.2,874.7Z"/><path d="M292.4,869.9L294.1,870.9L296.5,872.2L299.2,873.8L302.2,875.5L305.3,877.3L308.2,879.3L310.8,881.2L312.8,883.0L314.5,885.0L316.1,887.4L317.7,890.0L319.0,892.6L320.3,895.2L321.4,897.6L322.3,899.7L323.1,901.2A2.3,2.3 0 0 0 327.1,899.3L327.1,899.3L326.4,897.8L325.6,895.8L324.6,893.3L323.4,890.6L322.0,887.7L320.4,884.8L318.6,882.0L316.6,879.4L314.2,877.1L311.3,874.9L308.3,872.7L305.1,870.7L302.1,868.9L299.4,867.2L297.1,865.9L295.5,864.9A2.9,2.9 0 0 0 292.4,869.9Z"/><path d="M194.1,827.3L191.3,825.4L187.6,822.7L183.1,819.3L178.0,815.6L172.6,811.8L166.9,808.2L161.1,804.9L155.5,802.3L150.0,800.5L144.5,799.2L139.1,798.4L133.8,797.9L128.7,797.6L123.8,797.4L119.1,797.2L114.6,796.8L110.1,796.4L105.6,796.3L101.4,796.2L97.4,796.2L93.6,796.0L90.1,795.8L86.9,795.3L84.0,794.5L81.2,793.4L78.6,792.1L76.0,790.5L73.5,788.6L71.1,786.7L68.8,784.6L66.4,782.4L64.1,780.3L61.8,778.1L59.5,775.7L57.2,773.1L54.9,770.4L52.8,767.9L51.0,765.5L49.4,763.6L48.1,762.1A2.3,2.3 0 0 0 44.6,764.9L44.6,764.9L45.7,766.4L47.1,768.4L48.8,770.9L50.8,773.7L52.9,776.5L55.1,779.5L57.4,782.2L59.7,784.7L62.0,787.0L64.3,789.3L66.6,791.7L69.2,794.0L71.9,796.2L74.8,798.2L78.0,800.1L81.4,801.7L85.2,802.9L89.1,803.7L93.0,804.1L97.0,804.4L101.0,804.7L105.1,805.0L109.1,805.5L113.2,806.4L117.5,807.5L122.1,808.6L126.7,809.9L131.3,811.3L135.8,812.8L140.2,814.5L144.4,816.2L148.5,818.1L152.7,820.5L157.5,823.4L162.7,826.7L167.9,830.2L172.9,833.6L177.4,836.8L181.3,839.6L184.3,841.6A8.7,8.7 0 0 0 194.1,827.3Z"/><path d="M105.2,797.8L105.0,795.9L104.8,793.4L104.5,790.4L104.1,787.0L103.7,783.4L103.3,779.9L102.8,776.4L102.2,773.3L101.7,770.5L101.2,767.7L100.7,764.8L100.0,761.9L99.3,759.0L98.3,756.3L96.9,753.7L95.2,751.3L92.8,749.2L90.1,747.6L87.1,746.2L84.0,745.1L81.1,744.2L78.5,743.5L76.4,742.9L74.8,742.3A2.3,2.3 0 0 0 73.3,746.6L73.3,746.6L74.9,747.2L77.1,748.0L79.6,748.8L82.4,749.8L85.1,750.9L87.5,752.2L89.6,753.5L91.0,754.9L92.1,756.5L93.0,758.5L93.7,760.7L94.3,763.2L94.8,765.8L95.2,768.7L95.6,771.5L96.1,774.4L96.5,777.4L96.9,780.6L97.3,784.1L97.5,787.6L97.8,790.9L98.0,794.0L98.2,796.5L98.3,798.4A3.5,3.5 0 0 0 105.2,797.8Z"/><path d="M81.6,798.7L79.3,799.6L76.2,800.9L72.5,802.4L68.5,804.1L64.3,805.7L60.1,807.3L56.2,808.5L52.8,809.4L49.6,809.9L46.2,810.2L42.8,810.3L39.4,810.2L36.3,810.1L33.4,809.9L31.0,809.8L29.1,809.7A2.3,2.3 0 0 0 29.0,814.2L29.0,814.2L30.7,814.3L33.1,814.5L36.0,814.8L39.2,815.0L42.7,815.2L46.4,815.2L50.1,815.0L53.8,814.5L57.6,813.7L61.8,812.4L66.2,811.0L70.5,809.5L74.7,807.9L78.4,806.5L81.5,805.3L83.8,804.5A3.1,3.1 0 0 0 81.6,798.7Z"/><path d="M185.9,826.5L183.0,827.7L179.3,829.4L175.0,831.3L170.3,833.4L165.3,835.5L160.2,837.5L155.2,839.3L150.4,840.7L145.4,841.9L140.1,843.0L134.5,844.0L128.6,844.9L122.7,845.7L116.7,846.3L110.8,846.9L105.1,847.5L99.6,847.8L94.2,847.8L88.8,847.7L83.3,847.5L77.8,847.4L72.4,847.4L66.9,847.7L61.4,848.4L55.8,849.6L50.0,851.2L44.1,853.1L38.4,855.2L33.1,857.2L28.4,859.1L24.4,860.7L21.4,861.8A2.3,2.3 0 0 0 22.8,866.0L22.8,866.0L25.9,865.1L30.0,863.8L34.9,862.2L40.2,860.5L45.9,858.8L51.6,857.3L57.2,856.0L62.4,855.2L67.4,854.8L72.5,854.7L77.7,854.7L83.0,855.0L88.4,855.3L93.9,855.7L99.6,856.0L105.3,856.1L111.1,856.2L117.1,856.5L123.1,856.7L129.3,857.0L135.5,857.1L141.6,857.0L147.7,856.7L153.6,855.9L159.5,854.7L165.5,853.0L171.2,851.1L176.7,849.0L181.7,846.9L186.2,845.1L189.7,843.5L192.4,842.5A8.7,8.7 0 0 0 185.9,826.5Z"/><path d="M86.0,856.3L84.2,857.7L81.7,859.7L78.7,862.0L75.4,864.7L72.0,867.5L68.8,870.4L65.8,873.3L63.4,876.2L61.4,879.1L59.8,882.2L58.5,885.4L57.4,888.6L56.5,891.5L55.8,894.1L55.2,896.2L54.6,897.8A2.3,2.3 0 0 0 58.9,899.3L58.9,899.3L59.5,897.6L60.2,895.4L61.0,892.9L61.9,890.1L63.0,887.2L64.3,884.4L65.8,881.7L67.4,879.4L69.6,877.0L72.4,874.5L75.6,871.8L79.0,869.2L82.3,866.7L85.4,864.5L88.0,862.6L89.8,861.2A3.1,3.1 0 0 0 86.0,856.3Z"/><path d="M327.0,1179.8L327.4,1182.6L328.0,1186.4L328.8,1190.8L329.5,1195.6L330.1,1200.6L330.6,1205.4L330.8,1209.9L330.6,1213.7L330.0,1217.2L329.2,1220.9L328.1,1224.6L326.8,1228.3L325.3,1231.9L323.8,1235.2L322.1,1238.3L320.5,1241.1L318.8,1243.5L317.2,1245.7L315.5,1247.6L313.8,1249.2L311.9,1250.7L309.9,1252.0L307.7,1253.1L305.4,1254.2L302.6,1255.0L299.1,1255.7L295.0,1256.1L290.8,1256.5L286.7,1256.7L282.9,1256.8L279.6,1257.0L277.2,1257.2A4.4,4.4 0 0 0 277.7,1266.0L277.7,1266.0L280.0,1265.9L283.2,1265.8L287.0,1265.7L291.3,1265.6L295.9,1265.3L300.3,1264.9L304.6,1264.1L308.5,1263.1L311.8,1261.8L314.7,1260.3L317.5,1258.5L320.0,1256.6L322.4,1254.4L324.6,1252.1L326.7,1249.5L328.8,1246.7L330.9,1243.6L332.9,1240.1L334.9,1236.5L336.8,1232.5L338.6,1228.4L340.1,1224.1L341.4,1219.7L342.3,1215.1L342.7,1210.2L342.7,1204.8L342.4,1199.4L341.9,1194.1L341.3,1189.0L340.7,1184.6L340.2,1180.9L339.9,1178.2A6.5,6.5 0 0 0 327.0,1179.8Z"/><path d="M315.2,1249.5L313.7,1251.3L311.9,1253.5L309.8,1256.1L307.4,1258.9L304.8,1261.8L301.9,1264.6L298.9,1267.3L295.7,1269.7L291.8,1272.0L286.9,1274.5L281.5,1277.0L275.9,1279.5L270.4,1281.8L265.4,1283.9L261.1,1285.6L258.0,1287.0A4.4,4.4 0 0 0 261.5,1295.1L261.5,1295.1L264.6,1293.8L268.8,1292.0L273.8,1289.9L279.4,1287.5L285.1,1285.0L290.8,1282.4L296.0,1279.7L300.5,1277.1L304.4,1274.3L308.0,1271.2L311.3,1268.1L314.2,1265.0L316.8,1262.1L319.0,1259.5L320.8,1257.4L322.2,1255.9A4.7,4.7 0 0 0 315.2,1249.5Z"/><path d="M302.5,1267.2L302.4,1269.8L302.0,1273.4L301.5,1277.9L301.0,1283.0L300.8,1288.4L300.9,1293.9L301.6,1299.3L303.1,1304.4L305.7,1309.2L309.1,1313.9L313.1,1318.4L317.3,1322.7L321.5,1326.7L325.3,1330.2L328.4,1333.1L330.6,1335.3A4.1,4.1 0 0 0 336.4,1329.4L336.4,1329.4L334.1,1327.1L330.9,1324.2L327.1,1320.7L323.1,1316.9L319.1,1312.8L315.5,1308.8L312.6,1304.8L310.8,1301.3L309.7,1297.7L309.3,1293.3L309.2,1288.5L309.5,1283.7L310.1,1278.9L310.6,1274.5L311.1,1270.7L311.4,1267.8A4.4,4.4 0 0 0 302.5,1267.2Z"/><path d="M331.7,1212.8L330.6,1216.2L328.9,1220.8L326.7,1226.5L324.4,1232.8L322.3,1239.6L320.7,1246.4L319.9,1253.1L320.3,1259.4L322.3,1265.4L325.6,1271.0L329.6,1276.3L334.1,1281.2L338.5,1285.7L342.6,1289.7L345.9,1292.9L348.1,1295.3A4.1,4.1 0 0 0 354.2,1289.8L354.2,1289.8L351.8,1287.1L348.4,1283.7L344.5,1279.8L340.3,1275.5L336.3,1270.9L332.8,1266.2L330.3,1261.8L329.0,1257.8L328.8,1253.5L329.6,1248.1L331.2,1242.1L333.3,1235.9L335.7,1229.9L338.0,1224.4L339.9,1219.6L341.2,1216.0A5.0,5.0 0 0 0 331.7,1212.8Z"/><path d="M332.8,1206.0L335.5,1208.9L339.1,1213.1L343.5,1218.3L348.5,1224.0L354.0,1229.7L360.1,1235.0L366.5,1239.4L373.4,1242.5L380.9,1243.8L389.0,1243.9L397.5,1243.1L406.0,1241.7L414.0,1240.1L421.3,1238.5L427.2,1237.2L431.5,1236.4A4.4,4.4 0 0 0 430.1,1227.7L430.1,1227.7L425.5,1228.5L419.4,1229.7L412.2,1231.3L404.4,1232.8L396.4,1234.0L388.7,1234.6L381.7,1234.5L376.2,1233.5L371.2,1231.2L366.0,1227.5L360.8,1222.7L355.7,1217.4L351.0,1211.9L346.7,1206.7L343.0,1202.3L340.1,1199.2A5.0,5.0 0 0 0 332.8,1206.0Z"/><path d="M369.7,1245.1L376.2,1248.3L385.3,1252.9L396.3,1258.3L408.1,1264.2L420.0,1270.1L430.9,1275.5L440.1,1280.0L446.5,1283.2A4.4,4.4 0 0 0 450.5,1275.3L450.5,1275.3L444.0,1272.1L434.9,1267.5L424.0,1262.0L412.2,1256.0L400.4,1250.1L389.5,1244.5L380.4,1240.0L373.9,1236.7A4.7,4.7 0 0 0 369.7,1245.1Z"/><path d="M379.2,1255.1L378.8,1258.5L378.4,1263.0L377.8,1268.4L377.2,1274.3L376.4,1280.4L375.6,1286.2L374.7,1291.5L373.7,1295.9L372.6,1299.5L371.2,1303.0L369.6,1306.3L367.9,1309.3L366.2,1312.1L364.7,1314.6L363.3,1316.8L362.3,1318.5A4.1,4.1 0 0 0 369.5,1322.6L369.5,1322.6L370.4,1321.0L371.7,1318.9L373.3,1316.3L375.0,1313.4L376.9,1310.0L378.7,1306.3L380.3,1302.3L381.7,1298.0L382.8,1293.2L383.9,1287.6L384.8,1281.5L385.6,1275.4L386.4,1269.4L387.0,1264.0L387.6,1259.5L388.0,1256.2A4.4,4.4 0 0 0 379.2,1255.1Z"/><path d="M271.6,1258.6 m-7.7,0 a7.7,7.7 0 1,0 15.3,0 a7.7,7.7 0 1,0 -15.3,0Z"/><path d="M259.8,1291.1 m-8.3,0 a8.3,8.3 0 1,0 16.5,0 a8.3,8.3 0 1,0 -16.5,0Z"/><path d="M333.5,1332.3 m-7.7,0 a7.7,7.7 0 1,0 15.3,0 a7.7,7.7 0 1,0 -15.3,0Z"/><path d="M351.2,1292.5 m-7.1,0 a7.1,7.1 0 1,0 14.2,0 a7.1,7.1 0 1,0 -14.2,0Z"/><path d="M430.8,1232.1 m-7.7,0 a7.7,7.7 0 1,0 15.3,0 a7.7,7.7 0 1,0 -15.3,0Z"/><path d="M448.5,1279.3 m-8.8,0 a8.8,8.8 0 1,0 17.7,0 a8.8,8.8 0 1,0 -17.7,0Z"/><path d="M365.9,1320.6 m-7.7,0 a7.7,7.7 0 1,0 15.3,0 a7.7,7.7 0 1,0 -15.3,0Z"/><path d="M171.5,869.8L171.2,883.4L170.8,903.0L170.3,925.8L169.9,949.0L169.7,969.7L170.0,985.1L170.4,994.6L170.7,1000.4L171.7,1004.8L174.0,1008.4L176.4,1010.7L179.7,1014.2L185.0,1019.5L191.7,1025.4L199.4,1031.4L207.5,1037.2L215.5,1042.6L223.0,1047.2L230.3,1050.9L237.4,1053.7L244.1,1056.0L250.6,1058.0L256.9,1060.4L263.3,1063.3L270.2,1067.2L277.7,1071.4L285.1,1076.0L292.2,1080.8L298.6,1085.6L303.8,1090.3L307.9,1094.7L311.1,1099.0L313.7,1103.4L316.0,1108.2L318.1,1113.7L320.3,1119.8L322.5,1127.2L324.5,1135.7L326.4,1144.7L328.0,1153.7L329.2,1161.9L330.0,1168.6L330.3,1173.6L330.0,1177.7L329.5,1181.1L328.8,1184.0L328.0,1186.6L327.6,1188.9A6.5,6.5 0 0 0 340.4,1191.1L340.4,1191.1L340.7,1189.2L341.2,1186.7L341.8,1183.2L342.3,1178.7L342.4,1173.5L342.0,1167.4L341.0,1160.2L339.7,1151.8L338.1,1142.5L336.2,1133.1L334.1,1124.1L331.7,1116.2L329.4,1109.5L327.0,1103.5L324.3,1097.8L321.1,1092.4L317.1,1087.1L312.2,1081.7L306.2,1076.3L299.2,1071.0L291.6,1066.0L283.8,1061.1L276.1,1056.7L268.7,1052.7L261.6,1049.3L254.6,1046.7L247.9,1044.5L241.5,1042.4L235.2,1040.0L229.0,1036.8L222.0,1032.5L214.3,1027.3L206.6,1021.8L199.4,1016.1L193.1,1010.7L188.3,1005.8L184.8,1002.2L182.9,1000.5L182.8,1000.6L182.6,999.1L182.3,994.0L182.0,984.9L181.8,969.7L182.1,949.2L182.7,926.1L183.5,903.3L184.1,883.7L184.5,870.2A6.5,6.5 0 0 0 171.5,869.8Z"/></g></defs>
<use href="#nr" fill="#cacac9" stroke="#cacac9" stroke-width="3.2" stroke-linejoin="round"/>
<use href="#nr" fill="#e0dfdd"/>
<ellipse cx="189" cy="834.5" rx="16.4" ry="14.4" fill="#d2d2d2"/>
<g transform="translate(176.1,945.6) rotate(90)"><rect x="-39" y="-15.5" width="78" height="31" rx="15.5" fill="#e0d7c2" stroke="#c9b98f" stroke-width="2"/><path d="M-28,-9 Q-22,-12 -14,-11" fill="none" stroke="#fff" stroke-width="2" stroke-linecap="round" opacity="0.9"/><path d="M16,10 Q24,11 28,8" fill="none" stroke="#fff" stroke-width="2" stroke-linecap="round" opacity="0.9"/></g>
<g transform="translate(205.2,1027.1) rotate(32.7)"><rect x="-39" y="-15.5" width="78" height="31" rx="15.5" fill="#e0d7c2" stroke="#c9b98f" stroke-width="2"/><path d="M-28,-9 Q-22,-12 -14,-11" fill="none" stroke="#fff" stroke-width="2" stroke-linecap="round" opacity="0.9"/><path d="M16,10 Q24,11 28,8" fill="none" stroke="#fff" stroke-width="2" stroke-linecap="round" opacity="0.9"/></g>
<g transform="translate(286.3,1070.6) rotate(34.2)"><rect x="-39" y="-15.5" width="78" height="31" rx="15.5" fill="#e0d7c2" stroke="#c9b98f" stroke-width="2"/><path d="M-28,-9 Q-22,-12 -14,-11" fill="none" stroke="#fff" stroke-width="2" stroke-linecap="round" opacity="0.9"/><path d="M16,10 Q24,11 28,8" fill="none" stroke="#fff" stroke-width="2" stroke-linecap="round" opacity="0.9"/></g>
<g transform="translate(331.3,1142.9) rotate(81)"><rect x="-39" y="-15.5" width="78" height="31" rx="15.5" fill="#e0d7c2" stroke="#c9b98f" stroke-width="2"/><path d="M-28,-9 Q-22,-12 -14,-11" fill="none" stroke="#fff" stroke-width="2" stroke-linecap="round" opacity="0.9"/><path d="M16,10 Q24,11 28,8" fill="none" stroke="#fff" stroke-width="2" stroke-linecap="round" opacity="0.9"/></g>
<g transform="translate(1724.9,494) rotate(20)"><ellipse rx="9.0" ry="12.5" fill="#efcdb3" stroke="#cd9c74" stroke-width="1.1"/><ellipse rx="6.1" ry="9.8" fill="#fdf4ef"/><path d="M-6.4,-6.8L0.9,-6.8" stroke="#efcdb3" stroke-width="2.7" stroke-linecap="round"/><path d="M6.4,-2.3L-0.9,-2.3" stroke="#efcdb3" stroke-width="2.7" stroke-linecap="round"/><path d="M-6.4,2.3L0.9,2.3" stroke="#efcdb3" stroke-width="2.7" stroke-linecap="round"/><path d="M6.4,6.8L-0.9,6.8" stroke="#efcdb3" stroke-width="2.7" stroke-linecap="round"/></g><g transform="translate(1769.2,527) rotate(-25)"><ellipse rx="9.0" ry="12.5" fill="#efcdb3" stroke="#cd9c74" stroke-width="1.1"/><ellipse rx="6.1" ry="9.8" fill="#fdf4ef"/><path d="M-6.4,-6.8L0.9,-6.8" stroke="#efcdb3" stroke-width="2.7" stroke-linecap="round"/><path d="M6.4,-2.3L-0.9,-2.3" stroke="#efcdb3" stroke-width="2.7" stroke-linecap="round"/><path d="M-6.4,2.3L0.9,2.3" stroke="#efcdb3" stroke-width="2.7" stroke-linecap="round"/><path d="M6.4,6.8L-0.9,6.8" stroke="#efcdb3" stroke-width="2.7" stroke-linecap="round"/></g><g transform="translate(1833,536.7) rotate(-50)"><ellipse rx="9.0" ry="12.5" fill="#efcdb3" stroke="#cd9c74" stroke-width="1.1"/><ellipse rx="6.1" ry="9.8" fill="#fdf4ef"/><path d="M-6.4,-6.8L0.9,-6.8" stroke="#efcdb3" stroke-width="2.7" stroke-linecap="round"/><path d="M6.4,-2.3L-0.9,-2.3" stroke="#efcdb3" stroke-width="2.7" stroke-linecap="round"/><path d="M-6.4,2.3L0.9,2.3" stroke="#efcdb3" stroke-width="2.7" stroke-linecap="round"/><path d="M6.4,6.8L-0.9,6.8" stroke="#efcdb3" stroke-width="2.7" stroke-linecap="round"/></g><g transform="translate(1770.8,613.6) rotate(-80)"><ellipse rx="9.0" ry="12.5" fill="#efcdb3" stroke="#cd9c74" stroke-width="1.1"/><ellipse rx="6.1" ry="9.8" fill="#fdf4ef"/><path d="M-6.4,-6.8L0.9,-6.8" stroke="#efcdb3" stroke-width="2.7" stroke-linecap="round"/><path d="M6.4,-2.3L-0.9,-2.3" stroke="#efcdb3" stroke-width="2.7" stroke-linecap="round"/><path d="M-6.4,2.3L0.9,2.3" stroke="#efcdb3" stroke-width="2.7" stroke-linecap="round"/><path d="M6.4,6.8L-0.9,6.8" stroke="#efcdb3" stroke-width="2.7" stroke-linecap="round"/></g><g transform="translate(1825,601.4) rotate(25)"><ellipse rx="9.0" ry="12.5" fill="#efcdb3" stroke="#cd9c74" stroke-width="1.1"/><ellipse rx="6.1" ry="9.8" fill="#fdf4ef"/><path d="M-6.4,-6.8L0.9,-6.8" stroke="#efcdb3" stroke-width="2.7" stroke-linecap="round"/><path d="M6.4,-2.3L-0.9,-2.3" stroke="#efcdb3" stroke-width="2.7" stroke-linecap="round"/><path d="M-6.4,2.3L0.9,2.3" stroke="#efcdb3" stroke-width="2.7" stroke-linecap="round"/><path d="M6.4,6.8L-0.9,6.8" stroke="#efcdb3" stroke-width="2.7" stroke-linecap="round"/></g><g transform="translate(1861.2,668.7) rotate(15)"><ellipse rx="9.0" ry="12.5" fill="#efcdb3" stroke="#cd9c74" stroke-width="1.1"/><ellipse rx="6.1" ry="9.8" fill="#fdf4ef"/><path d="M-6.4,-6.8L0.9,-6.8" stroke="#efcdb3" stroke-width="2.7" stroke-linecap="round"/><path d="M6.4,-2.3L-0.9,-2.3" stroke="#efcdb3" stroke-width="2.7" stroke-linecap="round"/><path d="M-6.4,2.3L0.9,2.3" stroke="#efcdb3" stroke-width="2.7" stroke-linecap="round"/><path d="M6.4,6.8L-0.9,6.8" stroke="#efcdb3" stroke-width="2.7" stroke-linecap="round"/></g><g transform="translate(1961,936) rotate(20)"><ellipse rx="9.0" ry="12.5" fill="#efcdb3" stroke="#cd9c74" stroke-width="1.1"/><ellipse rx="6.1" ry="9.8" fill="#fdf4ef"/><path d="M-6.4,-6.8L0.9,-6.8" stroke="#efcdb3" stroke-width="2.7" stroke-linecap="round"/><path d="M6.4,-2.3L-0.9,-2.3" stroke="#efcdb3" stroke-width="2.7" stroke-linecap="round"/><path d="M-6.4,2.3L0.9,2.3" stroke="#efcdb3" stroke-width="2.7" stroke-linecap="round"/><path d="M6.4,6.8L-0.9,6.8" stroke="#efcdb3" stroke-width="2.7" stroke-linecap="round"/></g><g transform="translate(1967,1025) rotate(25)"><ellipse rx="9.0" ry="12.5" fill="#efcdb3" stroke="#cd9c74" stroke-width="1.1"/><ellipse rx="6.1" ry="9.8" fill="#fdf4ef"/><path d="M-6.4,-6.8L0.9,-6.8" stroke="#efcdb3" stroke-width="2.7" stroke-linecap="round"/><path d="M6.4,-2.3L-0.9,-2.3" stroke="#efcdb3" stroke-width="2.7" stroke-linecap="round"/><path d="M-6.4,2.3L0.9,2.3" stroke="#efcdb3" stroke-width="2.7" stroke-linecap="round"/><path d="M6.4,6.8L-0.9,6.8" stroke="#efcdb3" stroke-width="2.7" stroke-linecap="round"/></g><g transform="translate(1969,1099) rotate(20)"><ellipse rx="9.0" ry="12.5" fill="#efcdb3" stroke="#cd9c74" stroke-width="1.1"/><ellipse rx="6.1" ry="9.8" fill="#fdf4ef"/><path d="M-6.4,-6.8L0.9,-6.8" stroke="#efcdb3" stroke-width="2.7" stroke-linecap="round"/><path d="M6.4,-2.3L-0.9,-2.3" stroke="#efcdb3" stroke-width="2.7" stroke-linecap="round"/><path d="M-6.4,2.3L0.9,2.3" stroke="#efcdb3" stroke-width="2.7" stroke-linecap="round"/><path d="M6.4,6.8L-0.9,6.8" stroke="#efcdb3" stroke-width="2.7" stroke-linecap="round"/></g><g transform="translate(1958,1158) rotate(20)"><ellipse rx="9.0" ry="12.5" fill="#efcdb3" stroke="#cd9c74" stroke-width="1.1"/><ellipse rx="6.1" ry="9.8" fill="#fdf4ef"/><path d="M-6.4,-6.8L0.9,-6.8" stroke="#efcdb3" stroke-width="2.7" stroke-linecap="round"/><path d="M6.4,-2.3L-0.9,-2.3" stroke="#efcdb3" stroke-width="2.7" stroke-linecap="round"/><path d="M-6.4,2.3L0.9,2.3" stroke="#efcdb3" stroke-width="2.7" stroke-linecap="round"/><path d="M6.4,6.8L-0.9,6.8" stroke="#efcdb3" stroke-width="2.7" stroke-linecap="round"/></g>
<ellipse cx="1551" cy="1145" rx="442" ry="374" fill="none" stroke="#666" stroke-width="2.2" stroke-dasharray="7,5"/>
<circle cx="755" cy="149" r="36.5" fill="none" stroke="#666" stroke-width="2.2" stroke-dasharray="7,5"/><path d="M760,111.5L1136,15" fill="none" stroke="#666" stroke-width="2.2" stroke-dasharray="7,5"/><path d="M757,184.6L1133,304" fill="none" stroke="#666" stroke-width="2.2" stroke-dasharray="7,5"/><circle cx="1207" cy="162" r="161" fill="none" stroke="#666" stroke-width="2.2" stroke-dasharray="7,5"/><circle cx="881.8" cy="879.5" r="49" fill="none" stroke="#666" stroke-width="2.2" stroke-dasharray="7,5"/><path d="M881.7,831V928.7" fill="none" stroke="#666" stroke-width="2.2" stroke-dasharray="7,5"/><path d="M881.7,830.7L1545,770" fill="none" stroke="#666" stroke-width="2.2" stroke-dasharray="7,5"/><path d="M857,919L1198,1370" fill="none" stroke="#666" stroke-width="2.2" stroke-dasharray="7,5"/>
<rect x="1334.5" y="1039" width="316" height="395" rx="30" fill="none" stroke="#e07c80" stroke-width="2" stroke-dasharray="6,5.5"/>
<ellipse cx="1806.7" cy="1223.6" rx="146.4" ry="163.4" fill="#f5ece6" stroke="#d2a96e" stroke-width="2.3" stroke-dasharray="6.5,6"/><g transform="translate(1801,1110.5)"><ellipse rx="66.5" ry="30.5" fill="#efcfb6" stroke="#c4925f" stroke-width="1.6"/><ellipse rx="56" ry="22" fill="#fcefe9" stroke="#d9a988" stroke-width="0.8"/><path d="M-44,-22V-2" stroke="#efcfb6" stroke-width="7" stroke-linecap="round"/><path d="M-32,22V2" stroke="#efcfb6" stroke-width="7" stroke-linecap="round"/><path d="M-20,-22V-2" stroke="#efcfb6" stroke-width="7" stroke-linecap="round"/><path d="M-8,22V2" stroke="#efcfb6" stroke-width="7" stroke-linecap="round"/><path d="M4,-22V-2" stroke="#efcfb6" stroke-width="7" stroke-linecap="round"/><path d="M16,22V2" stroke="#efcfb6" stroke-width="7" stroke-linecap="round"/><path d="M28,-22V-2" stroke="#efcfb6" stroke-width="7" stroke-linecap="round"/><path d="M40,22V2" stroke="#efcfb6" stroke-width="7" stroke-linecap="round"/></g><path d="M1802.3,1072.0L1808.7,1089.2L1823.7,1077.3L1819.2,1093.9L1845.0,1084.8L1829.4,1099.7L1847.9,1101.6L1828.0,1109.0L1853.0,1117.2L1828.1,1117.8L1846.2,1133.9L1821.6,1126.2L1823.1,1139.7L1808.2,1127.3L1802.3,1146.0L1795.9,1128.8L1779.3,1143.0L1784.1,1125.2L1765.7,1129.8L1779.1,1116.9L1748.6,1117.7L1772.0,1109.0L1754.1,1101.2L1777.8,1100.6L1761.6,1085.9L1784.5,1093.1L1780.4,1076.7L1796.1,1089.8Z" fill="#d9737b" stroke="#a9505b" stroke-width="1.3" stroke-linejoin="miter"/><text x="1803.5" y="1117" font-size="24.5" font-weight="bold" fill="#fff" text-anchor="middle">ROS</text><linearGradient id="g3" gradientUnits="userSpaceOnUse" x1="1747.6" y1="1145.4" x2="1747.6" y2="1180"><stop offset="0" stop-color="#2f8bbd" stop-opacity="0.0"/><stop offset="1" stop-color="#2f8bbd" stop-opacity="1.0"/></linearGradient><path d="M1747.6,1145.4V1196" fill="none" stroke="url(#g3)" stroke-width="2.8" stroke-linecap="butt"/><path d="M1747.6,1206.5L1741.1,1192.5L1747.6,1196.0L1754.1,1192.5Z" fill="#2f8bbd"/><linearGradient id="g4" gradientUnits="userSpaceOnUse" x1="1849" y1="1145.4" x2="1849" y2="1180"><stop offset="0" stop-color="#d9737a" stop-opacity="0.0"/><stop offset="1" stop-color="#d9737a" stop-opacity="1.0"/></linearGradient><path d="M1849,1145.4V1196" fill="none" stroke="url(#g4)" stroke-width="2.8" stroke-linecap="butt"/><path d="M1849.0,1206.5L1842.5,1192.5L1849.0,1196.0L1855.5,1192.5Z" fill="#d9737a"/><circle cx="1862.1000000000001" cy="1173.4" r="2.5" fill="#a9827a" stroke="#c9a79f" stroke-width="0.5"/><circle cx="1865.7" cy="1173.4" r="2.5" fill="#a9827a" stroke="#c9a79f" stroke-width="0.5"/><circle cx="1862.1000000000001" cy="1177.0" r="2.5" fill="#a9827a" stroke="#c9a79f" stroke-width="0.5"/><circle cx="1865.7" cy="1177.0" r="2.5" fill="#a9827a" stroke="#c9a79f" stroke-width="0.5"/><clipPath id="g5"><path d="M1740,1213C1760,1210 1772,1225 1769,1245C1766,1262 1757,1275 1760,1295C1764,1318 1771,1335 1755,1346C1738,1354 1715,1340 1709,1310C1703,1280 1704,1250 1712,1232C1718,1220 1728,1214 1740,1213Z"/></clipPath><path d="M1740,1213C1760,1210 1772,1225 1769,1245C1766,1262 1757,1275 1760,1295C1764,1318 1771,1335 1755,1346C1738,1354 1715,1340 1709,1310C1703,1280 1704,1250 1712,1232C1718,1220 1728,1214 1740,1213Z" fill="#efcfb6"/><path d="M1740,1220C1754,1218 1762,1230 1760,1245C1757,1262 1749,1276 1752,1296C1755,1315 1760,1330 1750,1337C1738,1343 1722,1332 1717,1308C1712,1282 1713,1254 1719,1238C1724,1227 1731,1221 1740,1220Z" fill="#fcefe9" stroke="#dcae8e" stroke-width="0.8"/><g clip-path="url(#g5)"><path d="M1714,1232.0L1741,1233.0" stroke="#efcfb6" stroke-width="6.5" stroke-linecap="round" fill="none"/><path d="M1760,1243.5L1735,1244.5" stroke="#efcfb6" stroke-width="6.5" stroke-linecap="round" fill="none"/><path d="M1714,1255.0L1741,1256.0" stroke="#efcfb6" stroke-width="6.5" stroke-linecap="round" fill="none"/><path d="M1760,1266.5L1735,1267.5" stroke="#efcfb6" stroke-width="6.5" stroke-linecap="round" fill="none"/><path d="M1714,1278.0L1741,1279.0" stroke="#efcfb6" stroke-width="6.5" stroke-linecap="round" fill="none"/><path d="M1760,1289.5L1735,1290.5" stroke="#efcfb6" stroke-width="6.5" stroke-linecap="round" fill="none"/><path d="M1714,1301.0L1741,1302.0" stroke="#efcfb6" stroke-width="6.5" stroke-linecap="round" fill="none"/><path d="M1760,1312.5L1735,1313.5" stroke="#efcfb6" stroke-width="6.5" stroke-linecap="round" fill="none"/><path d="M1714,1324.0L1741,1325.0" stroke="#efcfb6" stroke-width="6.5" stroke-linecap="round" fill="none"/></g><path d="M1740,1213C1760,1210 1772,1225 1769,1245C1766,1262 1757,1275 1760,1295C1764,1318 1771,1335 1755,1346C1738,1354 1715,1340 1709,1310C1703,1280 1704,1250 1712,1232C1718,1220 1728,1214 1740,1213Z" fill="none" stroke="#c4925f" stroke-width="1.6"/><clipPath id="g6"><path d="M1845,1212C1862,1212 1871,1228 1870,1248C1869,1265 1860,1276 1850,1282C1840,1286 1826,1280 1821,1265C1816,1248 1818,1225 1845,1212Z"/></clipPath><path d="M1845,1212C1862,1212 1871,1228 1870,1248C1869,1265 1860,1276 1850,1282C1840,1286 1826,1280 1821,1265C1816,1248 1818,1225 1845,1212Z" fill="#efcfb6"/><path d="M1845,1219C1857,1219 1864,1231 1863,1248C1862,1262 1856,1272 1848,1276C1840,1278 1830,1272 1827,1262C1823,1248 1825,1229 1845,1219Z" fill="#fcefe9" stroke="#dcae8e" stroke-width="0.8"/><g clip-path="url(#g6)"><path d="M1826,1228L1849,1229" stroke="#efcfb6" stroke-width="6.5" stroke-linecap="round" fill="none"/><path d="M1864,1237L1842,1238" stroke="#efcfb6" stroke-width="6.5" stroke-linecap="round" fill="none"/><path d="M1826,1246L1849,1247" stroke="#efcfb6" stroke-width="6.5" stroke-linecap="round" fill="none"/><path d="M1864,1255L1842,1256" stroke="#efcfb6" stroke-width="6.5" stroke-linecap="round" fill="none"/><path d="M1826,1264L1849,1265" stroke="#efcfb6" stroke-width="6.5" stroke-linecap="round" fill="none"/><path d="M1864,1273L1842,1274" stroke="#efcfb6" stroke-width="6.5" stroke-linecap="round" fill="none"/></g><path d="M1845,1212C1862,1212 1871,1228 1870,1248C1869,1265 1860,1276 1850,1282C1840,1286 1826,1280 1821,1265C1816,1248 1818,1225 1845,1212Z" fill="none" stroke="#c4925f" stroke-width="1.6"/><clipPath id="g7"><path d="M1832,1287C1845,1283 1858,1290 1866,1305C1874,1322 1878,1342 1868,1353C1857,1362 1838,1356 1829,1340C1820,1324 1818,1296 1832,1287Z"/></clipPath><path d="M1832,1287C1845,1283 1858,1290 1866,1305C1874,1322 1878,1342 1868,1353C1857,1362 1838,1356 1829,1340C1820,1324 1818,1296 1832,1287Z" fill="#efcfb6"/><path d="M1834,1293C1845,1290 1855,1296 1861,1309C1868,1324 1871,1340 1863,1347C1855,1353 1842,1349 1835,1336C1828,1322 1825,1299 1834,1293Z" fill="#fcefe9" stroke="#dcae8e" stroke-width="0.8"/><g clip-path="url(#g7)"><path d="M1828,1300L1851,1302" stroke="#efcfb6" stroke-width="6.5" stroke-linecap="round" fill="none"/><path d="M1868,1309L1845,1311" stroke="#efcfb6" stroke-width="6.5" stroke-linecap="round" fill="none"/><path d="M1828,1318L1851,1320" stroke="#efcfb6" stroke-width="6.5" stroke-linecap="round" fill="none"/><path d="M1868,1327L1845,1329" stroke="#efcfb6" stroke-width="6.5" stroke-linecap="round" fill="none"/><path d="M1828,1336L1851,1338" stroke="#efcfb6" stroke-width="6.5" stroke-linecap="round" fill="none"/><path d="M1868,1345L1845,1347" stroke="#efcfb6" stroke-width="6.5" stroke-linecap="round" fill="none"/></g><path d="M1832,1287C1845,1283 1858,1290 1866,1305C1874,1322 1878,1342 1868,1353C1857,1362 1838,1356 1829,1340C1820,1324 1818,1296 1832,1287Z" fill="none" stroke="#c4925f" stroke-width="1.6"/><circle cx="1832" cy="1280.5" r="3.2" fill="#9c7169" stroke="#82594f" stroke-width="0.6"/><circle cx="1835" cy="1286" r="3.2" fill="#9c7169" stroke="#82594f" stroke-width="0.6"/><circle cx="1838" cy="1280.5" r="3.2" fill="#9c7169" stroke="#82594f" stroke-width="0.6"/><circle cx="1841" cy="1286" r="3.2" fill="#9c7169" stroke="#82594f" stroke-width="0.6"/><circle cx="1844" cy="1280.5" r="3.2" fill="#9c7169" stroke="#82594f" stroke-width="0.6"/><circle cx="1847" cy="1286" r="3.2" fill="#9c7169" stroke="#82594f" stroke-width="0.6"/><circle cx="1850" cy="1280.5" r="3.2" fill="#9c7169" stroke="#82594f" stroke-width="0.6"/><circle cx="1853" cy="1286" r="3.2" fill="#9c7169" stroke="#82594f" stroke-width="0.6"/><circle cx="1856" cy="1280.5" r="3.2" fill="#9c7169" stroke="#82594f" stroke-width="0.6"/><circle cx="1859" cy="1286" r="3.2" fill="#9c7169" stroke="#82594f" stroke-width="0.6"/><g transform="translate(1895,1240.5) rotate(20)"><ellipse rx="19" ry="27" fill="#efcfb6" stroke="#c4925f" stroke-width="1.5"/><ellipse rx="13" ry="20" fill="#fcefe9" stroke="#d9a988" stroke-width="0.8"/><path d="M-13,-14L3,-14" stroke="#efcfb6" stroke-width="5" stroke-linecap="round"/><path d="M13,-7L-3,-7" stroke="#efcfb6" stroke-width="5" stroke-linecap="round"/><path d="M-13,0L3,0" stroke="#efcfb6" stroke-width="5" stroke-linecap="round"/><path d="M13,7L-3,7" stroke="#efcfb6" stroke-width="5" stroke-linecap="round"/><path d="M-13,14L3,14" stroke="#efcfb6" stroke-width="5" stroke-linecap="round"/></g><g transform="translate(1891,1300.5) rotate(-15)"><ellipse rx="18" ry="26" fill="#efcfb6" stroke="#c4925f" stroke-width="1.5"/><ellipse rx="12" ry="19" fill="#fcefe9" stroke="#d9a988" stroke-width="0.8"/><path d="M-12,-13L3,-13" stroke="#efcfb6" stroke-width="5" stroke-linecap="round"/><path d="M12,-6L-3,-6" stroke="#efcfb6" stroke-width="5" stroke-linecap="round"/><path d="M-12,1L3,1" stroke="#efcfb6" stroke-width="5" stroke-linecap="round"/><path d="M12,8L-3,8" stroke="#efcfb6" stroke-width="5" stroke-linecap="round"/><path d="M-12,15L3,15" stroke="#efcfb6" stroke-width="5" stroke-linecap="round"/></g>
<linearGradient id="g8" gradientUnits="userSpaceOnUse" x1="490" y1="841" x2="400" y2="868"><stop offset="0" stop-color="#7d7d7d" stop-opacity="0.0"/><stop offset="1" stop-color="#7d7d7d" stop-opacity="1.0"/></linearGradient><path d="M490,841C460,870 390,880 352,843" fill="none" stroke="url(#g8)" stroke-width="3.5" stroke-linecap="butt"/><path d="M348.6,840.3L363.3,845.1L356.3,847.5L354.4,854.6Z" fill="#7d7d7d"/><circle cx="296.7" cy="830.6" r="5.5" fill="#93cbd4" stroke="#6fb1bd" stroke-width="1"/><circle cx="298.3" cy="832.5" r="1.4" fill="#fff" opacity="0.9"/><circle cx="378.4" cy="844.2" r="5.5" fill="#93cbd4" stroke="#6fb1bd" stroke-width="1"/><circle cx="380.0" cy="846.1" r="1.4" fill="#fff" opacity="0.9"/><circle cx="412.2" cy="854.4" r="5.5" fill="#93cbd4" stroke="#6fb1bd" stroke-width="1"/><circle cx="413.8" cy="856.3" r="1.4" fill="#fff" opacity="0.9"/><circle cx="449.1" cy="850.5" r="5.5" fill="#93cbd4" stroke="#6fb1bd" stroke-width="1"/><circle cx="450.8" cy="852.4" r="1.4" fill="#fff" opacity="0.9"/><circle cx="480.7" cy="831.5" r="5.5" fill="#93cbd4" stroke="#6fb1bd" stroke-width="1"/><circle cx="482.3" cy="833.4" r="1.4" fill="#fff" opacity="0.9"/><path d="M506.7,818L506.2,814.5L508.7,810.4L512.8,809.1L517.4,810.9L519.2,815.5L518.5,820.1L521,822.2L526.2,824.2L543.6,827.8L541.5,829.4L515.9,825.8L512.8,821.7L508.7,819.1Z" fill="#a8d3db" stroke="#a8d3db" stroke-width="0.8" stroke-linejoin="round"/><path d="M504.1,833.5L503.6,838.6L505.6,842.7L510.3,844.2L514.4,842.2L516.4,837.6L516.9,835L520,833L543.1,834.5L541.5,832.4L515.9,828.8L511.8,831.9L507.7,833.5Z" fill="#a8d3db" stroke="#a8d3db" stroke-width="0.8" stroke-linejoin="round"/>
<linearGradient id="g9" gradientUnits="userSpaceOnUse" x1="449" y1="1300" x2="560" y2="1312"><stop offset="0" stop-color="#7d7d7d" stop-opacity="0.0"/><stop offset="1" stop-color="#7d7d7d" stop-opacity="1.0"/></linearGradient><path d="M449,1300C490,1322 600,1320 688,1251" fill="none" stroke="url(#g9)" stroke-width="3.5" stroke-linecap="butt"/><path d="M691.7,1247.5L685.4,1261.6L683.8,1254.4L676.9,1251.8Z" fill="#7d7d7d"/><circle cx="355.7" cy="1272" r="5.5" fill="#93a7d4" stroke="#7488bd" stroke-width="1"/><circle cx="357.3" cy="1273.9" r="1.4" fill="#fff" opacity="0.9"/><circle cx="482.7" cy="1293.2" r="5.5" fill="#93a7d4" stroke="#7488bd" stroke-width="1"/><circle cx="484.3" cy="1295.1" r="1.4" fill="#fff" opacity="0.9"/><circle cx="538" cy="1293.2" r="5.5" fill="#93a7d4" stroke="#7488bd" stroke-width="1"/><circle cx="539.6" cy="1295.1" r="1.4" fill="#fff" opacity="0.9"/><circle cx="590.9" cy="1281" r="5.5" fill="#93a7d4" stroke="#7488bd" stroke-width="1"/><circle cx="592.5" cy="1282.9" r="1.4" fill="#fff" opacity="0.9"/><circle cx="641.7" cy="1256.3" r="5.5" fill="#93a7d4" stroke="#7488bd" stroke-width="1"/><circle cx="643.4" cy="1258.2" r="1.4" fill="#fff" opacity="0.9"/><circle cx="695" cy="1229.2" r="5.5" fill="#93a7d4" stroke="#7488bd" stroke-width="1"/><circle cx="696.6" cy="1231.1" r="1.4" fill="#fff" opacity="0.9"/><path d="M733.3,1185.2L713,1204" stroke="#94a8d4" stroke-width="3.6" stroke-linecap="round"/><path d="M738.7,1191.2L722,1210" stroke="#94a8d4" stroke-width="3.6" stroke-linecap="round"/><path d="M715.0,1200.0L714.4,1199.6L713.8,1199.4L712.5,1199.2L709.9,1198.7L706.6,1198.3L703.3,1198.3L700.2,1199.0L697.1,1200.3L694.6,1202.0L692.5,1204.6L690.9,1207.7L690.4,1209.6L691.8,1209.3L694.3,1207.8L696.7,1206.7L698.6,1206.5L700.2,1206.7L701.2,1207.5L701.1,1209.2L700.4,1211.5L700.0,1213.3L700.4,1214.3L701.3,1214.9L702.5,1215.0L704.1,1214.8L706.0,1214.1L708.3,1212.5L711.5,1209.3L715.2,1205.2L717.5,1202.0L717.5,1200.7L716.3,1200.3Z" fill="#94a8d4"/><path d="M722.9,1209.0L723.9,1211.7L724.7,1215.3L725.0,1218.8L724.7,1221.7L723.9,1224.5L722.5,1227.0L719.8,1229.8L716.4,1232.4L714.2,1233.3L714.5,1231.4L715.9,1227.8L716.2,1225.0L714.2,1224.3L711.2,1224.3L709.2,1223.8L709.1,1221.9L710.1,1219.4L711.7,1216.7L714.1,1213.6L717.1,1210.2L719.6,1208.0L721.1,1207.3L722.1,1207.7Z" fill="#94a8d4"/>
<linearGradient id="g10" gradientUnits="userSpaceOnUse" x1="1448" y1="449" x2="1350" y2="458"><stop offset="0" stop-color="#7d7d7d" stop-opacity="0.0"/><stop offset="1" stop-color="#7d7d7d" stop-opacity="1.0"/></linearGradient><path d="M1448,449C1370,478 1258,460 1209,357" fill="none" stroke="url(#g10)" stroke-width="3.5" stroke-linecap="butt"/><path d="M1206.0,351.5L1218.5,360.5L1211.1,360.7L1207.2,366.9Z" fill="#7d7d7d"/><circle cx="1242.6" cy="369.3" r="5.5" fill="#e7afba" stroke="#d795a1" stroke-width="1"/><circle cx="1244.2" cy="371.2" r="1.4" fill="#fff" opacity="0.9"/><circle cx="1270" cy="403.9" r="5.5" fill="#e7afba" stroke="#d795a1" stroke-width="1"/><circle cx="1271.7" cy="405.8" r="1.4" fill="#fff" opacity="0.9"/><circle cx="1311.5" cy="428.8" r="5.5" fill="#e7afba" stroke="#d795a1" stroke-width="1"/><circle cx="1313.2" cy="430.7" r="1.4" fill="#fff" opacity="0.9"/><circle cx="1360.5" cy="441.1" r="5.5" fill="#e7afba" stroke="#d795a1" stroke-width="1"/><circle cx="1362.2" cy="443.0" r="1.4" fill="#fff" opacity="0.9"/><circle cx="1410.4" cy="440.1" r="5.5" fill="#e7afba" stroke="#d795a1" stroke-width="1"/><circle cx="1412.1" cy="442.0" r="1.4" fill="#fff" opacity="0.9"/>
<linearGradient id="g11" gradientUnits="userSpaceOnUse" x1="1923" y1="1270" x2="1950" y2="1120"><stop offset="0" stop-color="#7d7d7d" stop-opacity="0.0"/><stop offset="1" stop-color="#7d7d7d" stop-opacity="1.0"/></linearGradient><path d="M1923,1270C1965,1110 1965,860 1833,670" fill="none" stroke="url(#g11)" stroke-width="3.0" stroke-linecap="butt"/><path d="M1829.6,665.4L1843.1,672.9L1835.8,673.9L1832.5,680.6Z" fill="#7d7d7d"/>
<linearGradient id="g12" gradientUnits="userSpaceOnUse" x1="1507.5" y1="1099.6" x2="1507.5" y2="1250"><stop offset="0" stop-color="#7d7d7d" stop-opacity="0.0"/><stop offset="1" stop-color="#7d7d7d" stop-opacity="1.0"/></linearGradient><path d="M1507.5,1099.6V1362" fill="none" stroke="url(#g12)" stroke-width="3.5" stroke-linecap="butt"/><path d="M1507.5,1374.6L1501.0,1360.1L1507.5,1364.1L1514.0,1360.1Z" fill="#7d7d7d"/><linearGradient id="g13" gradientUnits="userSpaceOnUse" x1="1441.5" y1="1194.8" x2="1500" y2="1225"><stop offset="0" stop-color="#7d7d7d" stop-opacity="0.0"/><stop offset="1" stop-color="#7d7d7d" stop-opacity="1.0"/></linearGradient><path d="M1441.5,1194.8H1475.2C1495,1194.8 1507,1220 1507,1243.8C1507,1268 1495,1292.3 1475.2,1292.3H1452" fill="none" stroke="url(#g13)" stroke-width="3.3" stroke-linecap="butt"/><path d="M1441.5,1292.3L1455.0,1286.3L1451.5,1292.3L1455.0,1298.3Z" fill="#7d7d7d"/><linearGradient id="g14" gradientUnits="userSpaceOnUse" x1="1573.3" y1="1194.8" x2="1515" y2="1225"><stop offset="0" stop-color="#7d7d7d" stop-opacity="0.0"/><stop offset="1" stop-color="#7d7d7d" stop-opacity="1.0"/></linearGradient><path d="M1573.3,1194.8H1539.6C1520,1194.8 1508,1220 1508,1243.8C1508,1268 1520,1292.3 1539.6,1292.3H1562" fill="none" stroke="url(#g14)" stroke-width="3.3" stroke-linecap="butt"/><path d="M1573.3,1292.3L1559.8,1298.3L1563.3,1292.3L1559.8,1286.3Z" fill="#7d7d7d"/><linearGradient id="g15" gradientUnits="userSpaceOnUse" x1="1276.5" y1="1116.5" x2="1258" y2="1150"><stop offset="0" stop-color="#7d7d7d" stop-opacity="0.0"/><stop offset="1" stop-color="#7d7d7d" stop-opacity="1.0"/></linearGradient><path d="M1276.5,1116.5C1262,1130 1252,1148 1255,1168" fill="none" stroke="url(#g15)" stroke-width="3.2" stroke-linecap="butt"/><path d="M1255.3,1176.5L1248.8,1165.0L1254.5,1167.5L1259.7,1164.1Z" fill="#7d7d7d"/><linearGradient id="g16" gradientUnits="userSpaceOnUse" x1="1282.4" y1="1215.3" x2="1320" y2="1226"><stop offset="0" stop-color="#7d7d7d" stop-opacity="0.0"/><stop offset="1" stop-color="#7d7d7d" stop-opacity="1.0"/></linearGradient><path d="M1282.4,1215.3C1300,1226 1325,1230 1341,1216" fill="none" stroke="url(#g16)" stroke-width="3.2" stroke-linecap="butt"/><path d="M1347.0,1211.8L1340.7,1223.4L1339.8,1217.2L1334.1,1214.6Z" fill="#7d7d7d"/><linearGradient id="g17" gradientUnits="userSpaceOnUse" x1="1382.4" y1="1169.4" x2="1375" y2="1140"><stop offset="0" stop-color="#7d7d7d" stop-opacity="0.0"/><stop offset="1" stop-color="#7d7d7d" stop-opacity="1.0"/></linearGradient><path d="M1382.4,1169.4C1383,1150 1372,1132 1353,1122" fill="none" stroke="url(#g17)" stroke-width="3.2" stroke-linecap="butt"/><path d="M1347.0,1118.8L1360.2,1119.4L1355.0,1122.9L1355.1,1129.2Z" fill="#7d7d7d"/>
<linearGradient id="g18" gradientUnits="userSpaceOnUse" x1="1203.5" y1="1022" x2="1203.5" y2="975"><stop offset="0" stop-color="#2f8bbd" stop-opacity="0.0"/><stop offset="1" stop-color="#2f8bbd" stop-opacity="1.0"/></linearGradient><path d="M1203.5,1022V962C1203.5,950 1212,938.7 1226,938.7H1412" fill="none" stroke="url(#g18)" stroke-width="2.8" stroke-linecap="butt"/><path d="M1412,927.5V948.5" stroke="#2f8bbd" stroke-width="2.8"/><linearGradient id="g19" gradientUnits="userSpaceOnUse" x1="1203.5" y1="1053" x2="1203.5" y2="1075"><stop offset="0" stop-color="#2f8bbd" stop-opacity="0.0"/><stop offset="1" stop-color="#2f8bbd" stop-opacity="1.0"/></linearGradient><path d="M1203.5,1053V1106.6" fill="none" stroke="url(#g19)" stroke-width="2.8" stroke-linecap="butt"/><path d="M1192.5,1106.6H1214.5" stroke="#2f8bbd" stroke-width="2.8"/><linearGradient id="g20" gradientUnits="userSpaceOnUse" x1="1597.8" y1="933.6" x2="1680" y2="933.6"><stop offset="0" stop-color="#d9737a" stop-opacity="0.0"/><stop offset="1" stop-color="#d9737a" stop-opacity="1.0"/></linearGradient><path d="M1597.8,933.6H1790.7C1804,933.6 1814.2,943 1814.2,956V1040" fill="none" stroke="url(#g20)" stroke-width="2.8" stroke-linecap="butt"/><path d="M1814.2,1051.7L1807.9,1036.7L1814.2,1040.2L1820.5,1036.7Z" fill="#d9737a"/><linearGradient id="g21" gradientUnits="userSpaceOnUse" x1="1597.8" y1="951.4" x2="1680" y2="951.4"><stop offset="0" stop-color="#2f8bbd" stop-opacity="0.0"/><stop offset="1" stop-color="#2f8bbd" stop-opacity="1.0"/></linearGradient><path d="M1597.8,951.4H1760.3C1773,951.4 1783.1,961 1783.1,974V1046.3" fill="none" stroke="url(#g21)" stroke-width="2.8" stroke-linecap="butt"/><path d="M1771.7,1046.3H1794.5" stroke="#2f8bbd" stroke-width="2.8"/>
<text x="175.3" y="434.9" font-size="31.7" fill="#2e2e2e" font-weight="normal">Morphine</text>
<text x="172.8" y="555.2" font-size="31.7" fill="#2e2e2e" font-weight="normal">1</text>
<text x="1218.4" y="246.4" font-size="31.7" fill="#2e2e2e" font-weight="normal">NAc</text>
<text x="1753.4" y="257.4" font-size="31.7" fill="#2e2e2e" font-weight="normal">Microglia</text>
<text x="1320.2" y="330.3" font-size="31.7" fill="#2e2e2e" font-weight="normal">IL-6</text>
<text x="1318.8" y="368.0" font-size="31.7" fill="#2e2e2e" font-weight="normal">TNF-α</text>
<text x="1320.2" y="405.5" font-size="31.7" fill="#2e2e2e" font-weight="normal">IL-1β</text>
<text x="1247.0" y="460.2" font-size="31.7" fill="#2e2e2e" font-weight="normal">6</text>
<text x="990.6" y="761.7" font-size="31.7" fill="#2e2e2e" font-weight="normal">Astrocyte</text>
<text x="352.7" y="814.0" font-size="31.7" fill="#2e2e2e" font-weight="normal">Lactate</text>
<text x="545.2" y="877.2" font-size="31.7" fill="#2e2e2e" font-weight="normal">MCTs</text>
<text x="157.5" y="1127.4" font-size="31.7" fill="#2e2e2e" font-weight="normal">Neuron</text>
<text x="480.0" y="1244.0" font-size="31.7" fill="#2e2e2e" font-weight="normal">Glutamate</text>
<text x="743.0" y="1214.4" font-size="31.7" fill="#2e2e2e" font-weight="normal">EAATs</text>
<text x="588.1" y="1347.8" font-size="31.7" fill="#2e2e2e" font-weight="normal">2</text>
<text x="1897.0" y="757.5" font-size="31.7" fill="#2e2e2e" font-weight="normal">5</text>
<text x="1443.6" y="933.6" font-size="31.7" fill="#d9707a" font-weight="normal">Glycolytic</text>
<text x="1429.8" y="972.3" font-size="31.7" fill="#d9707a" font-weight="normal">Metabolism</text>
<text x="1154.5" y="1049.4" font-size="31.7" fill="#2f8dc0" font-weight="normal">FK866</text>
<text x="1145.0" y="1140.0" font-size="31.7" fill="#2e2e2e" font-weight="normal">NAMPT</text>
<text x="1276.8" y="1113.0" font-size="31.7" fill="#2e2e2e" font-weight="normal">NAM</text>
<text x="1221.5" y="1207.0" font-size="31.7" fill="#2e2e2e" font-weight="normal">NMN</text>
<text x="1349.8" y="1207.0" font-size="31.7" fill="#2e2e2e" font-weight="normal">NAD<tspan font-size="18" dx="-1" dy="-10">+</tspan></text>
<text x="1343.9" y="1304.7" font-size="31.7" fill="#2e2e2e" font-weight="normal">NADH</text>
<text x="1449.5" y="1079.0" font-size="31.7" fill="#2e2e2e" font-weight="normal">Glucose</text>
<text x="1575.9" y="1206.8" font-size="31.7" fill="#2e2e2e" font-weight="normal">ADP</text>
<text x="1579.0" y="1304.0" font-size="31.7" fill="#2e2e2e" font-weight="normal">ATP</text>
<text x="1451.0" y="1413.8" font-size="31.7" fill="#2e2e2e" font-weight="normal">Pyruvate</text>
<text x="1500.4" y="1473.4" font-size="31.7" fill="#2e2e2e" font-weight="normal">3</text>
<text x="1796.6" y="1421.5" font-size="31.7" fill="#2e2e2e" font-weight="normal">4</text>
<text x="1875.5" y="1185.6" font-size="31.7" fill="#2e2e2e" font-weight="normal">Fis1</text></svg></body></html>
